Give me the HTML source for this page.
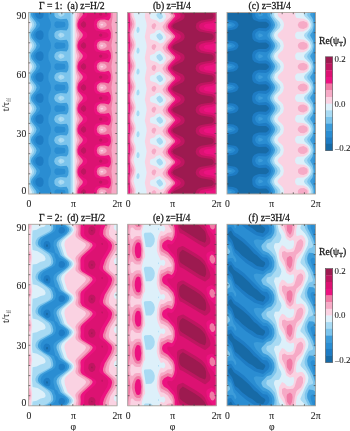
<!DOCTYPE html>
<html><head><meta charset="utf-8"><style>html,body{margin:0;padding:0;background:#fff;}svg{display:block;font-family:"Liberation Serif",serif;filter:blur(0.45px);}</style></head><body>
<svg width="350" height="431" viewBox="0 0 350 431" font-family="Liberation Serif, serif" fill="#1c1c1c">
<rect x="28.6" y="12.5" width="88.4" height="181.5" fill="#176AA6"/>
<path fill="#1E7CC4" d="M117.1 194 28.6 194 28.6 12.5 117.1 12.5 117.1 194Z"/>
<path fill="#2A8DD2" d="M117.1 194 28.6 194 28.6 12.5 35.5 12.5 35.2 14.5 36.1 16.8 37.6 18.2 40.1 19 42.1 18.3 43.1 17 43.6 15 43.5 12.5 117.1 12.5 117.1 194ZM41.8 39.5 42.8 38.5 43.5 36.5 43.6 34 43 32 42.1 30.9 40.6 30.3 37.6 31 36.1 32.4 35.4 34 35.7 37 37.6 39.2 40.1 40 41.8 39.5ZM41.8 60.5 42.8 59.5 43.5 57.5 43.6 55 43 53 42.1 51.9 40.6 51.3 37.6 52 36.1 53.4 35.4 55 35.7 58 37.6 60.2 40.1 61 41.8 60.5ZM41.8 81.5 42.8 80.5 43.5 78.5 43.6 76 43 74 42.1 72.9 40.6 72.3 37.6 73 36.1 74.4 35.4 76 35.7 79 37.6 81.2 40.1 82 41.8 81.5ZM41.8 102.5 42.8 101.5 43.5 99.5 43.6 97 43 95 42.1 93.9 40.6 93.3 37.6 94 36.1 95.4 35.4 97 35.7 100 37.6 102.2 40.1 103 41.8 102.5ZM41.8 123.5 42.8 122.5 43.5 120.5 43.6 118 43 116 42.1 114.9 40.6 114.3 37.6 115 36.1 116.4 35.4 118 35.7 121 37.6 123.2 40.1 124 41.8 123.5ZM41.8 144.5 42.8 143.5 43.5 141.5 43.6 139 43 137 42.1 135.9 40.6 135.3 37.6 136 36.1 137.4 35.4 139 35.7 142 37.6 144.2 40.1 145 41.8 144.5ZM41.8 165.5 42.8 164.5 43.5 162.5 43.6 160 43 158 42.1 156.9 40.6 156.3 37.6 157 36.1 158.4 35.4 160 35.7 163 37.6 165.2 40.1 166 41.8 165.5ZM41.8 186.5 42.8 185.5 43.5 183.5 43.6 181 43 179 42.1 177.9 40.6 177.3 37.6 178 36.1 179.4 35.4 181 35.7 184 37.6 186.2 40.1 187 41.8 186.5Z"/>
<path fill="#3C9CDA" d="M39.6 194 28.6 194 28.6 12.5 33.3 12.5 33 14.5 33.7 16.5 36.1 19.6 39.3 22.5 40.1 24.5 39.5 26.5 34.2 32 33 35 34 38 36.1 40.6 39.3 43.5 40.1 45.5 39.5 47.5 34.2 53 33 56 34 59 36.1 61.6 39.3 64.5 40.1 66.5 39.5 68.5 34.2 74 33 77 34 80 36.1 82.6 39.3 85.5 40.1 87.5 39.5 89.5 34.2 95 33 98 34 101 36.1 103.6 39.3 106.5 40.1 108.5 39.5 110.5 34.2 116 33 119 34 122 36.1 124.6 39.3 127.5 40.1 129.5 39.5 131.5 34.2 137 33 140 34 143 36.1 145.6 39.3 148.5 40.1 150.5 39.5 152.5 34.2 158 33 161 33.2 162.5 34.4 164.5 39.3 169.5 40.1 171 39.5 173.5 34.5 178.5 33.3 180.5 33 182 33.2 183.5 34.4 185.5 39.7 191 40.1 192.5 39.6 194ZM117.1 194 65.3 194 65.5 192 64.6 190.1 56.6 189.3 54.6 190.7 54.4 194 50.9 194 50.8 190.5 48.6 185.5 48.3 182 48.6 178.7 50.6 174.5 51 171 50.6 168.8 48.6 164.5 48.3 161 48.6 157.7 50.6 153.5 51 150 50.6 147.8 48.6 143.5 48.3 140 48.6 136.7 50.6 132.5 51 129 50.6 126.8 48.6 122.5 48.3 119 48.6 115.7 50.6 111.5 51 108.5 50.6 105.8 48.6 101.5 48.3 98 48.6 94.7 50.6 90.5 51 87.5 50.6 84.8 48.6 80.5 48.3 77 48.6 73.7 50.6 69.5 51 66.5 50.6 63.8 48.6 59.5 48.3 56 48.6 52.7 50.6 48.5 51 45.5 50.6 42.8 48.6 38.5 48.3 35 48.6 31.7 50.6 27.5 51 24.5 50.6 21.8 48.6 17.5 48.4 12.5 117.1 12.5 117.1 194ZM62 27.5 64.6 27.1 65.1 26.4 65.5 24 64.6 22.1 56.6 21.3 54.7 22.5 54.3 25.5 55.6 27.5 56.6 27.9 62 27.5ZM62 48.5 64.6 48.1 65.1 47.4 65.5 45 64.6 43.1 56.6 42.3 54.7 43.5 54.3 46.5 55.6 48.5 56.6 48.9 62 48.5ZM62 69.5 64.6 69.1 65.1 68.4 65.5 66 64.6 64.1 56.6 63.3 54.7 64.5 54.3 67.5 55.6 69.5 56.6 69.9 62 69.5ZM62 90.5 64.6 90.1 65.1 89.4 65.5 87 64.6 85.1 56.6 84.3 54.7 85.5 54.3 88.5 55.6 90.5 56.6 90.9 62 90.5ZM62 111.5 64.6 111.1 65.1 110.4 65.5 108 64.6 106.1 56.6 105.3 54.7 106.5 54.3 109.5 55.6 111.5 56.6 111.9 62 111.5ZM62 132.5 64.6 132.1 65.1 131.4 65.5 129 64.6 127.1 56.6 126.3 54.7 127.5 54.3 130.5 55.6 132.5 56.6 132.9 62 132.5ZM62 153.5 64.6 153.1 65.1 152.4 65.5 150 64.6 148.1 56.6 147.3 54.7 148.5 54.3 151.5 55.6 153.5 56.6 153.9 62 153.5ZM62 174.5 64.6 174.1 65.1 173.4 65.5 171 64.6 169.1 56.6 168.3 54.7 169.5 54.3 172.5 55.6 174.5 56.6 174.9 62 174.5Z"/>
<path fill="#7CC4EC" d="M36.1 194 28.6 194 28.6 12.5 31.1 12.5 30.9 14.5 31.5 16.5 35.7 22 36.6 24.5 35.5 27.5 31.6 32.5 30.9 35 31.6 37.8 35.7 43 36.6 45.5 35.5 48.5 31.6 53.5 30.9 56 31.6 58.8 35.7 64 36.6 66.5 35.5 69.5 31.6 74.5 30.9 77 31.6 79.8 35.7 85 36.6 87.5 35.5 90.5 31.6 95.5 30.9 98 31.6 100.8 35.7 106 36.6 108.5 35.5 111.5 31.6 116.5 30.9 119 31.6 121.8 35.7 127 36.6 129.5 35.5 132.5 31.6 137.5 30.9 140 31.6 142.8 35.7 148 36.6 150.5 35.5 153.5 31.6 158.5 30.9 161 31.6 163.8 35.4 168.5 36.6 171 35.8 174 31.6 179.4 30.9 182 31.6 184.8 36.2 191 36.6 193 36.1 194ZM117.1 194 68.6 194 68.2 189.5 66.6 186.7 60.6 187.2 59.1 186.9 55.6 185.5 54.4 183.5 54.4 180.5 55.3 179 56.6 178.1 60.6 177 66.6 177.5 68.2 175 68.6 171.5 68.1 168 66.6 165.7 60.6 166.2 57.7 165.5 55.2 164 54.1 161.5 54.9 158.5 56.9 157 60.6 156 66.6 156.5 68.2 154 68.6 150.5 68.1 147 66.6 144.7 60.6 145.2 57.7 144.5 55.2 143 54.1 140.5 54.9 137.5 56.9 136 60.6 135 66.6 135.5 68.2 133 68.6 129.5 68.1 126 66.6 123.7 60.6 124.2 57.7 123.5 55.2 122 54.1 119.5 54.9 116.5 56.9 115 60.6 114 66.6 114.5 68.2 112 68.6 108.5 68.1 105 66.6 102.7 60.6 103.2 57.7 102.5 55.2 101 54.1 98.5 54.9 95.5 56.9 94 60.6 93 66.6 93.5 68.2 91 68.6 87.5 68.1 84 66.6 81.7 60.6 82.2 58.1 81.6 55.6 80.5 54.2 78 54.7 75 56.6 73.1 60.6 72 66.6 72.5 68.2 70 68.6 66.5 68.1 63 66.6 60.7 60.6 61.2 58.1 60.6 55.6 59.5 54.2 57 54.7 54 56.6 52.1 60.6 51 66.6 51.5 68.2 49 68.6 45.5 68.1 42 66.6 39.7 60.6 40.2 59.1 39.9 55.6 38.5 54.4 36.5 54.4 33.5 55.3 32 56.6 31.1 60.6 30 66.6 30.5 68.2 28 68.6 24.5 68.1 21 66.6 18.7 60.6 19.2 56.4 18 55.2 17 54.4 15.5 54.4 12.5 117.1 12.5 117.1 194Z"/>
<path fill="#A8DAF3" d="M33.6 194 28.6 194 28.6 12.5 29.8 12.5 30.1 17.6 33.5 22 34.3 24.5 33.6 27 30.1 31.6 29.7 35 30.1 38.6 33.5 43 34.3 45.5 33.6 48 30.1 52.6 29.7 56 30.1 59.6 33.5 64 34.3 66.5 33.6 69 30.1 73.6 29.7 77 30.1 80.6 33.5 85 34.3 87.5 33.6 90 30.1 94.6 29.7 98 30.1 101.6 33.5 106 34.3 108.5 33.6 111 30.1 115.6 29.7 119 30.1 122.6 33.5 127 34.3 129.5 33.6 132 30.1 136.6 29.7 140 30.1 143.6 33.5 148 34.3 150.5 33.6 153 30.1 157.6 29.7 161 30.1 164.6 33.5 169 34.3 171 33.6 174 30.1 178.6 29.8 181.5 30.1 185.6 34.2 191.5 34.2 193.5 33.6 194ZM61.6 16.6 60.6 16.8 58.3 15 58.2 13.5 58.9 12.5 63.5 12.5 64.5 13.5 64.3 15 61.6 16.6ZM117.1 194 70.6 194 70.6 12.5 117.1 12.5 117.1 194ZM61.6 37.6 60.6 37.8 59.9 37.5 58.2 35.5 58.5 34 60.6 32.4 63.5 33.5 64.6 34.9 63.8 36.5 61.6 37.6ZM61.6 58.6 60.6 58.8 59.9 58.5 58.2 56.5 58.5 55 60.6 53.4 63.5 54.5 64.6 55.9 63.8 57.5 61.6 58.6ZM61.6 79.6 60.6 79.8 59.9 79.5 58.2 77.5 58.5 76 60.6 74.4 63.5 75.5 64.6 76.9 63.8 78.5 61.6 79.6ZM61.6 100.6 60.6 100.8 59.9 100.5 58.2 98.5 58.5 97 60.6 95.4 63.5 96.5 64.6 97.9 63.8 99.5 61.6 100.6ZM61.6 121.6 60.6 121.8 59.9 121.5 58.2 119.5 58.5 118 60.6 116.4 63.5 117.5 64.6 118.9 63.8 120.5 61.6 121.6ZM61.6 142.6 60.6 142.8 59.9 142.5 58.2 140.5 58.5 139 60.6 137.4 63.5 138.5 64.6 139.9 63.8 141.5 61.6 142.6ZM61.6 163.6 60.6 163.8 59.9 163.5 58.2 161.5 58.5 160 60.6 158.4 63.5 159.5 64.6 160.9 63.8 162.5 61.6 163.6ZM61.6 184.6 60.6 184.8 59.9 184.5 58.2 182.5 58.5 181 60.6 179.4 63.5 180.5 64.6 181.9 63.8 183.5 61.6 184.6Z"/>
<path fill="#DDF0FA" d="M31.6 194 28.6 194 28.6 12.5 29.2 12.5 29.7 19.5 31.7 23 32.1 24.5 31.6 26.5 29.7 30 29.2 35 29.7 40.5 31.7 44 32.1 45.5 31.6 47.5 29.7 51 29.2 56 29.7 61.5 31.7 65 32.1 66.5 31.6 68.5 29.7 72 29.2 77 29.7 82.5 31.7 86 32.1 87.5 31.6 89.5 29.7 93 29.2 98 29.7 103.5 31.7 107 32.1 108.5 31.6 110.5 29.7 114 29.2 119 29.7 124.5 31.7 128 32.1 129.5 31.6 131.5 29.7 135 29.2 140 29.7 145.5 31.7 149 32.1 150.5 31.6 152.5 29.7 156 29.2 160.5 29.6 166 31.7 170 32.1 171.5 31.6 173.5 29.7 177 29.2 181.5 29.6 187 32 192 31.6 194ZM117.1 194 72.7 194 72.7 12.5 117.1 12.5 117.1 194ZM60.6 14.6 60.2 14 60.6 13.6 61.1 14 60.6 14.6ZM60.6 35.6 60.2 35 60.6 34.6 61.1 35 60.6 35.6ZM60.6 56.6 60.2 56 60.6 55.6 61.1 56 60.6 56.6ZM60.6 77.6 60.2 77 60.6 76.6 61.1 77 60.6 77.6ZM60.6 98.6 60.2 98 60.6 97.6 61.1 98 60.6 98.6ZM60.6 119.6 60.2 119 60.6 118.6 61.1 119 60.6 119.6ZM60.6 140.6 60.2 140 60.6 139.6 61.1 140 60.6 140.6ZM60.6 161.6 60.2 161 60.6 160.6 61.1 161 60.6 161.6ZM60.6 182.6 60.2 182 60.6 181.6 61.1 182 60.6 182.6Z"/>
<path fill="#FAD2E2" d="M29.1 194 28.6 194 28.6 12.5 29.5 24.5 28.9 34.5 29.5 45.5 28.9 55.5 29.5 66.5 28.9 76.5 29.5 87.5 28.9 97.5 29.5 108.5 28.9 118.5 29.5 129.5 28.9 139 29.5 150.5 28.9 159.5 29.5 171.5 28.9 179.5 29 187.5 29.5 192.5 29.1 194ZM117.1 194 74.6 194 74.7 12.5 117.1 12.5 117.1 194Z"/>
<path fill="#F6AAC6" d="M117.1 194 75.6 194 75.9 187.5 77.3 182 75.9 177 75.5 171.5 76 166 77.3 161 75.9 156 75.5 150.5 76 145 77.3 140 75.9 135 75.5 129.5 76 124 77.3 119 75.9 114 75.5 108.5 76 103 77.3 98 76 93.5 75.5 88 75.9 82.5 77.3 77 76 72.5 75.5 67 75.9 61.5 77.3 56 76 51.5 75.5 46 75.9 40.5 77.3 35 76 30.5 75.5 25 76 19 77.3 14.5 76.9 12.5 117.1 12.5 117.1 194ZM102.6 25.5 103.3 24.5 102.6 23.7 100.6 24 100.6 25 101.1 25.5 102.6 25.5ZM102.6 46.5 103.3 45.5 102.6 44.7 100.6 45 100.6 46 101.1 46.5 102.6 46.5ZM102.6 67.5 103.3 66.5 102.6 65.7 100.6 66 100.6 67 101.1 67.5 102.6 67.5ZM102.6 88.5 103.3 87.5 102.6 86.7 100.6 87 100.6 88 101.1 88.5 102.6 88.5ZM102.6 109.5 103.3 108.5 102.6 107.7 100.6 108 100.6 109 101.1 109.5 102.6 109.5ZM102.6 130.5 103.3 129.5 102.6 128.7 100.6 129 100.6 130 101.1 130.5 102.6 130.5ZM102.6 151.5 103.3 150.5 102.6 149.7 100.6 150 100.6 151 101.1 151.5 102.6 151.5ZM102.6 172.5 103.3 171.5 102.6 170.7 100.6 171 100.6 172 101.1 172.5 102.6 172.5ZM102.6 193.5 103.3 192.5 102.6 191.7 100.6 192 100.6 193 101.1 193.5 102.6 193.5Z"/>
<path fill="#F07AA5" d="M111.1 194 106.3 194 106.6 192 105.7 190.5 104.6 189.8 101.1 189.3 100.1 189.7 99 191 98.7 192.5 99 194 76.5 194 76.9 188.5 79.4 183.5 79.7 182 77 176 76.4 171.5 76.9 167.5 79.4 162.5 79.7 161 77 155 76.4 150.5 76.9 146.5 79.4 141.5 79.7 140 77 134 76.4 129.5 76.9 125.5 79.4 120.5 79.7 119 77 113 76.4 108.5 76.9 104.5 79.4 99.5 79.7 98 77 92 76.4 87.5 76.9 83.5 79.4 78.5 79.7 77 77 71 76.4 66.5 77.1 62 79.6 56.5 79.3 54.5 76.9 49.5 76.4 45.5 77.1 41 79.6 35.5 79.3 33.5 77 29 76.4 25 76.9 20.5 79.5 15 79.3 12.5 112.7 12.5 112.5 17.5 111.4 24.5 112.5 31.5 112.7 36.5 111.4 45.5 112.5 52.5 112.7 57 111.4 66.5 112.7 77.5 111.4 87.5 112.7 98.5 111.4 108.5 112.7 119.5 111.4 129.5 112.7 140.5 111.4 150.5 112.7 161.5 111.4 171.5 112.7 182.5 111.4 191.5 111.5 194 111.1 194ZM104 27.5 106.3 26 106.7 25 106.4 23.5 104.6 21.8 100.6 21.3 98.8 23.5 98.7 25 99.2 26.5 100.6 27.9 104 27.5ZM104 48.5 106.3 47 106.7 46 106.4 44.5 104.6 42.8 100.6 42.3 98.8 44.5 98.7 46 99.2 47.5 100.6 48.9 104 48.5ZM104 69.5 106.3 68 106.7 67 106.4 65.5 104.6 63.8 100.6 63.3 98.8 65.5 98.7 67 99.2 68.5 100.6 69.9 104 69.5ZM104 90.5 106.3 89 106.7 88 106.4 86.5 104.6 84.8 100.6 84.3 98.8 86.5 98.7 88 99.2 89.5 100.6 90.9 104 90.5ZM104 111.5 106.3 110 106.7 109 106.4 107.5 104.6 105.8 100.6 105.3 98.8 107.5 98.7 109 99.2 110.5 100.6 111.9 104 111.5ZM104 132.5 106.3 131 106.7 130 106.4 128.5 104.6 126.8 100.6 126.3 98.8 128.5 98.7 130 99.2 131.5 100.6 132.9 104 132.5ZM104 153.5 106.3 152 106.7 151 106.4 149.5 104.6 147.8 100.6 147.3 98.8 149.5 98.7 151 99.2 152.5 100.6 153.9 104 153.5ZM104 174.5 106.3 173 106.7 172 106.4 170.5 104.6 168.8 100.6 168.3 98.8 170.5 98.7 172 99.2 173.5 100.6 174.9 104 174.5Z"/>
<path fill="#EC1280" d="M96.6 194 77.5 194 77.5 191 78.1 189 79.1 187.2 82.2 184 82.9 182 82.4 180.5 79.1 177 78 175 77.4 172.5 77.6 169.5 78.9 166.5 82.2 163 82.9 161 82.4 159.5 78.2 154.5 77.5 152.5 77.4 149.5 78.6 146 82.2 142 82.9 140 82.4 138.5 78.2 133.5 77.5 131.5 77.4 128.5 78.6 125 82.2 121 82.9 119 82.4 117.5 78.2 112.5 77.5 110.5 77.4 108 78.6 104 82.2 100 82.9 98 82.4 96.5 78.2 91.5 77.5 89.5 77.4 87 78.6 83 82.2 79 82.9 77 82.4 75.5 78.2 70.5 77.5 68.5 77.4 66 78.6 62 82.2 58 82.9 56 82.4 54.5 78.2 49.5 77.5 47.5 77.4 45 78.6 41 82.2 37 82.9 35 82.4 33.5 78.2 28.5 77.5 26.5 77.4 23.5 78.9 19.5 82.7 15 82.9 14 82.4 12.5 110.9 12.5 110.6 17.5 108.6 20.4 104.6 19.5 100.1 19.8 97.6 21.5 96.7 24.5 97.4 27.5 99.1 29 100.6 29.6 104.6 29.7 108.6 28.8 110.1 30.7 110.9 33 110.7 38 109.1 41 108.6 41.4 104.6 40.5 100.1 40.8 97.6 42.5 96.7 45.5 97.4 48.5 99.1 50 100.6 50.6 104.6 50.7 108.6 49.8 110.6 52.7 111 55.5 110.8 58.5 109.1 62 108.6 62.4 104.6 61.5 100.1 61.8 97.6 63.5 96.7 66.5 97.4 69.5 100.1 71.4 104.6 71.7 108.6 70.8 109.1 71.2 110.3 73 110.9 75 110.6 80.5 108.6 83.4 104.6 82.5 100.6 82.6 99.1 83.2 97.2 85 96.7 87.5 97.4 90.5 100.1 92.4 104.6 92.7 108.6 91.8 109.1 92.2 110.8 95.5 110.8 100.5 110.1 102.5 108.6 104.4 104.6 103.5 100.6 103.6 99.1 104.2 97.2 106 96.7 108.5 97.4 111.5 100.1 113.4 104.6 113.7 108.9 113 110.7 116 110.9 121 110.1 123.5 108.6 125.4 104.6 124.5 100.1 124.8 97.6 126.5 96.7 129.5 97.4 132.5 100.1 134.4 104.6 134.7 108.9 134 110.6 136.7 111 141.5 110.4 144 108.6 146.4 104.6 145.5 100.1 145.8 97.6 147.5 96.7 150.5 97.4 153.5 100.1 155.4 104.6 155.7 108.9 155 110.6 157.7 111 162.5 110.4 165 108.6 167.4 104.6 166.5 100.1 166.8 97.6 168.5 96.7 171.5 97.4 174.5 100.1 176.4 104.6 176.7 108.6 175.8 110.6 178.7 111 183 110.4 186 108.6 188.4 104.6 187.5 100.6 187.6 98.6 188.5 97 190.5 96.6 194Z"/>
<path fill="#DC1272" d="M93.6 194 78.8 194 78.6 193 78.8 191 79.6 189.3 80.9 188 86.1 185.1 87.1 183.5 87.3 182 87 180.5 85.9 179 83.6 177.9 80.1 175.5 79.1 174.1 78.6 172 78.8 170 79.6 168.3 80.9 167 86.1 164.1 87.1 162.5 87.3 161 87 159.5 85.9 158 83.6 156.9 80.1 154.5 79.1 153.1 78.6 151 78.8 149 79.6 147.3 80.9 146 86.1 143.1 87.1 141.5 87.3 140 87 138.5 85.9 137 83.6 135.9 80.1 133.5 79.1 132.1 78.6 130 78.8 128 79.6 126.3 80.9 125 86.1 122.1 87.1 120.5 87.3 119 87 117.5 85.9 116 83.6 114.9 80.1 112.5 79.1 111.1 78.6 109 78.8 107 79.6 105.3 80.9 104 86.1 101.1 87.1 99.5 87.3 98 86.1 95.1 80.6 92 79.1 90.1 78.7 88.5 78.7 86.5 79.5 84.5 80.6 83.2 86.1 80.1 87.1 78.5 87.3 77 86.1 74.1 80.6 71 78.9 68.5 78.6 66 79.5 63.5 80.6 62.2 86.1 59.1 87.1 57.5 87.3 56 87 54.5 85.9 53 80.6 50 79.6 48.9 78.8 47 78.7 44.5 79.1 43.1 80.6 41.2 86.2 38 87.1 36.5 87.3 35 87 33.5 85.9 32 83.6 30.9 79.7 28 78.9 26.5 78.6 24 79.1 22.1 80.6 20.2 85.5 17.5 86.5 16.5 87.3 14.5 87 12.5 108 12.5 108.6 13.5 108.6 14.7 107.1 16.4 102.6 17.7 97.1 18.4 95.6 19.2 94.3 21.5 93.9 25 94.6 28.5 96.1 30.4 106.6 32.6 108.4 34 108.5 36 107.7 37 106.1 37.8 96.1 39.8 94.5 42 93.9 46 94.6 49.5 96.1 51.4 106.6 53.6 108.4 55 108.6 56.7 107.7 58 106.1 58.8 96.1 60.8 94.5 63 93.9 66.5 94.4 70 96.1 72.4 106.6 74.6 108.4 76 108.6 77.7 107.7 79 106.1 79.8 96.1 81.8 94.5 84 93.9 87.5 94.4 91 96.1 93.4 106.6 95.6 108.4 97 108.6 98.7 107.7 100 106.1 100.8 96.1 102.8 94.5 105 93.9 108.5 94.4 112 96.1 114.4 106.6 116.6 108.4 118 108.6 119.5 107.7 121 106.1 121.8 96.1 123.8 94.5 126 93.9 129.5 94.4 133 96.1 135.4 106.6 137.6 108.4 139 108.6 140.5 107.7 142 106.1 142.8 96.1 144.8 94.5 147 93.9 150.5 94.4 154 96.1 156.4 106.6 158.6 108.4 160 108.6 161.5 107.7 163 106.1 163.8 96.1 165.8 94.5 168 93.9 171.5 94.4 175 96.1 177.4 106.6 179.6 108.4 181 108.6 182.5 107.7 184 106.1 184.8 97.1 186.4 95.9 187 94.5 189 94 194 93.6 194Z"/>
<path fill="#BE1660" d="M101.1 15.7 99.9 15.5 99 14.5 99.1 13.5 100.3 12.5 101.6 12.9 102.4 14 102 15 101.1 15.7ZM83.6 28.1 81.2 26 80.7 24.5 81.4 23 83.6 21.1 85.6 22.5 86.2 24.5 85.6 26.7 83.6 28.1ZM101.1 36.7 99.9 36.5 99 35.5 99.1 34.5 100.6 33.4 101.8 34 102.4 35 102 36 101.1 36.7ZM83.6 49.1 81.2 47 80.7 45.5 81.4 44 83.6 42.1 85.6 43.5 86.2 45.5 85.6 47.7 83.6 49.1ZM101.1 57.7 99.9 57.5 99 56.5 99.1 55.5 100.6 54.4 101.8 55 102.4 56 102 57 101.1 57.7ZM83.6 70.1 81.2 68 80.7 66.5 81.4 65 83.6 63.1 85.6 64.5 86.2 66.5 85.6 68.7 83.6 70.1ZM101.1 78.7 99.9 78.5 99 77.5 99.1 76.5 100.6 75.4 101.8 76 102.4 77 102 78 101.1 78.7ZM83.6 91.1 81.2 89 80.7 87.5 81.4 86 83.6 84.1 85.6 85.5 86.2 87.5 85.6 89.7 83.6 91.1ZM101.1 99.7 99.9 99.5 99 98.5 99.1 97.5 100.6 96.4 101.8 97 102.4 98 102 99 101.1 99.7ZM83.6 112.1 81.2 110 80.7 108.5 81.4 107 83.6 105.1 85.6 106.5 86.2 108.5 85.6 110.7 83.6 112.1ZM101.1 120.7 99.9 120.5 99 119.5 99.1 118.5 100.6 117.4 101.8 118 102.4 119 102 120 101.1 120.7ZM83.6 133.1 81.2 131 80.7 129.5 81.4 128 83.6 126.1 85.6 127.5 86.2 129.5 85.6 131.7 83.6 133.1ZM101.1 141.7 99.9 141.5 99 140.5 99.1 139.5 100.6 138.4 101.8 139 102.4 140 102 141 101.1 141.7ZM83.6 154.1 81.2 152 80.7 150.5 81.4 149 83.6 147.1 85.6 148.5 86.2 150.5 85.6 152.7 83.6 154.1ZM101.1 162.7 99.9 162.5 99 161.5 99.1 160.5 100.6 159.4 101.8 160 102.4 161 102 162 101.1 162.7ZM83.6 175.1 81.2 173 80.7 171.5 81.4 170 83.6 168.1 85.6 169.5 86.2 171.5 85.6 173.7 83.6 175.1ZM101.1 183.7 99.9 183.5 99 182.5 99.1 181.5 100.6 180.4 101.8 181 102.4 182 102 183 101.1 183.7ZM85.6 194 81.2 194 80.9 193.5 81 191.5 83.6 189.1 85.1 189.9 85.9 191 86.2 193 86 194 85.6 194Z"/>
<rect x="28.6" y="12.5" width="88.4" height="181.5" fill="none" stroke="#b0a69c" stroke-width=".9"/>
<path d="M28.6 22.6h1.7M117 22.6h-1.7M28.6 32.7h1.7M117 32.7h-1.7M28.6 42.8h1.7M117 42.8h-1.7M28.6 52.8h1.7M117 52.8h-1.7M28.6 62.9h1.7M117 62.9h-1.7M28.6 73h1.7M117 73h-1.7M28.6 83.1h1.7M117 83.1h-1.7M28.6 93.2h1.7M117 93.2h-1.7M28.6 103.2h1.7M117 103.2h-1.7M28.6 113.3h1.7M117 113.3h-1.7M28.6 123.4h1.7M117 123.4h-1.7M28.6 133.5h1.7M117 133.5h-1.7M28.6 143.6h1.7M117 143.6h-1.7M28.6 153.7h1.7M117 153.7h-1.7M28.6 163.8h1.7M117 163.8h-1.7M28.6 173.8h1.7M117 173.8h-1.7M28.6 183.9h1.7M117 183.9h-1.7M39.7 12.5v1.7M39.7 194v-1.7M50.7 12.5v1.7M50.7 194v-1.7M61.8 12.5v1.7M61.8 194v-1.7M72.8 12.5v1.7M72.8 194v-1.7M83.8 12.5v1.7M83.8 194v-1.7M94.9 12.5v1.7M94.9 194v-1.7M106 12.5v1.7M106 194v-1.7" stroke="#4a4a4a" stroke-width=".75" fill="none"/>
<rect x="127.8" y="12.5" width="88.4" height="181.5" fill="#176AA6"/>
<path fill="#1E7CC4" d="M216.3 194 127.8 194 127.8 12.5 216.3 12.5 216.3 194Z"/>
<path fill="#2A8DD2" d="M216.3 194 127.8 194 127.8 12.5 216.3 12.5 216.3 194Z"/>
<path fill="#3C9CDA" d="M216.3 194 127.8 194 127.8 12.5 216.3 12.5 216.3 194Z"/>
<path fill="#7CC4EC" d="M216.3 194 127.8 194 127.8 12.5 216.3 12.5 216.3 194Z"/>
<path fill="#A8DAF3" d="M216.3 194 127.8 194 127.8 12.5 216.3 12.5 216.3 194Z"/>
<path fill="#DDF0FA" d="M216.3 194 127.8 194 127.8 12.5 158.6 12.5 156.6 14 156.4 15.5 157.6 17.5 159.8 19.6 161.9 18.5 163 17 162.5 15 160.4 12.5 216.3 12.5 216.3 194ZM138.6 32.5 139.3 31.4 139.6 29.5 139.3 28 138.3 26.7 137.8 26.7 136.9 28 136.4 30.5 137 32.5 137.8 32.9 138.6 32.5ZM161 40 162.8 38.5 163 37 161.9 35 159.8 32.9 156.9 34.5 156.3 36 157.3 38 159.2 40 159.8 40.5 161 40ZM138.5 53.5 139.3 52.3 139.6 50.5 139.3 48.9 138.3 47.6 137.8 47.6 136.9 49 136.4 51.5 137.1 53.5 138.5 53.5ZM160.7 61 162.7 59.5 163 58 162 56 159.8 53.8 157.3 55 156.5 56 156.4 57 157 58.5 158.8 60.5 159.8 61.4 160.7 61ZM138.3 74.5 139.3 73.2 139.6 71.5 139.3 69.8 138.3 68.4 137.8 68.5 136.8 70 136.4 72.5 136.8 74 137.3 74.5 138.3 74.5ZM160.5 82 162.6 80.5 163.1 79 162.1 77 159.8 74.7 157.2 76 156.5 77 156.4 78 158.4 81 159.8 82.3 160.5 82ZM138 95.5 139.1 94.5 139.6 92.5 139.2 90.5 138.3 89.3 137 90.5 136.4 93 136.8 94.9 138 95.5ZM160.3 103 162.6 101.5 163.1 100 162.2 98 159.8 95.6 157.1 97 156.3 98.5 157.5 101 159.8 103.2 160.3 103ZM138.7 116 139.4 114.5 139.5 112.5 138.8 110.7 137.8 110.3 136.7 112 136.4 114.5 137.3 116.3 138.7 116ZM160 124 162.5 122.5 163.1 121 162.3 119 159.8 116.5 156.9 118 156.3 119.5 157.2 121.5 160 124ZM138.5 137 139.3 135.8 139.6 134 139.3 132.5 138.3 131.1 137.8 131.2 136.9 132.5 136.4 135 137.1 137 137.8 137.3 138.5 137ZM160.9 144.5 162.8 143 163 141.5 162 139.5 159.8 137.3 156.8 139 156.4 140.5 157.3 142.5 159.3 144.5 159.8 144.9 160.9 144.5ZM138.4 158 139.3 156.7 139.6 155 139.3 153.4 138.3 152 137.8 152.1 136.8 153.5 136.4 156 137.2 158 138.4 158ZM160.6 165.5 162.7 164 163 162.5 162 160.5 159.8 158.2 157.3 159.5 156.5 160.5 156.4 161.5 157 163 158.8 165 159.8 165.8 160.6 165.5ZM138.2 179 139.1 178 139.6 176 139.2 174 138.3 172.9 137 174 136.4 176.5 136.8 178.5 138.2 179ZM160.4 186.5 162.6 185 163.1 183.5 162.1 181.5 159.8 179.1 157.1 180.5 156.4 181.5 156.4 182.5 158.4 185.5 159.8 186.7 160.4 186.5Z"/>
<path fill="#FAD2E2" d="M135.3 194 127.8 194 127.8 12.5 133.6 12.5 133.7 15.5 135.4 20 135.9 23 135.6 27 133.5 34.5 133.9 37 135.6 41.5 135.9 44.5 135.4 48.5 133.5 55.5 133.9 58 135.5 62 135.9 65.5 135.5 69 133.5 76.5 134 79 135.5 83 135.9 86 135.5 90 133.5 97.5 135.5 104 135.9 107 135.5 111 133.5 118 133.9 120.5 135.5 125 135.9 128 135.4 132 133.5 139 133.9 141.5 135.5 145.5 135.9 148.5 135.5 152.5 133.5 160 135.8 169 135.6 173 133.5 181 135.7 188.5 135.8 192 135.3 194ZM216.3 194 146.7 194 146.4 190.5 144.8 183 146.7 172.5 144.8 162 146.7 151.5 144.8 141.5 146.7 131 146.4 127.5 144.8 120.5 146.7 110 146.4 107 144.8 99.5 146.7 89 144.8 78.5 146.7 68 144.8 58 146.7 47.5 146.4 44 144.8 37 146.7 26.5 146.4 23 144.8 17 145.3 12.5 152.2 12.5 150.1 14 149.9 16 150.3 18 151.8 19 156.3 20.2 159.8 22.8 163.3 21.6 165.7 18 166.2 16 164 12.5 216.3 12.5 216.3 194ZM160.3 43.5 163.3 42.5 165.4 39.5 166.2 37 164.1 33.5 159.8 29.7 156.3 30.6 154.3 32.9 150.8 34 150.1 35 149.9 37 150.3 38.9 151 39.5 156.3 41 159.8 43.6 160.3 43.5ZM159.9 64.5 163.3 63.4 165.3 60.5 166.2 58 164.2 54.5 159.8 50.6 156.3 51.5 154.3 53.8 150.8 54.9 150.2 55.5 149.9 57.5 150.2 59.5 150.8 60.3 156.3 61.9 159.9 64.5ZM161.1 85 163.3 84.3 165.3 81.5 166.2 79 164.3 75.5 160.3 71.9 159.8 71.5 156.3 72.4 154.3 74.7 151.8 75.3 150.3 76.3 149.9 79 150.6 81 156.3 82.8 159.8 85.4 161.1 85ZM160.8 106 163.3 105.2 165.2 102.5 166.2 100 165.2 97.5 162.8 94.9 159.8 92.4 156.3 93.3 154.3 95.6 151.8 96.2 150.3 97.2 149.9 100 150.7 102 156.3 103.7 159.8 106.3 160.8 106ZM160.5 127 163.3 126 165.4 123 166.2 120.5 164.1 117 159.8 113.3 156.3 114.2 154.3 116.5 150.8 117.6 150.1 118.5 149.9 120.5 150.3 122.5 150.9 123 156.3 124.6 159.8 127.2 160.5 127ZM160.1 148 163.3 146.9 165.4 144 166.2 141.5 164.2 138 159.8 134.2 156.3 135.1 154.3 137.4 150.8 138.5 150.1 139.5 149.9 141.5 150.3 143.3 151.1 144 156.3 145.5 160.1 148ZM161.3 168.5 163.6 167.5 165.3 165 166.2 162.5 164.3 159 160.3 155.5 159.8 155.1 156.3 156 154.3 158.3 151.8 158.9 150.3 159.8 149.9 162.5 150.5 164.5 156.3 166.4 159.8 169 161.3 168.5ZM160.9 189.5 163.3 188.7 165.2 186 166.2 183.5 164.4 180 160.3 176.4 159.8 176 156.3 176.9 154.3 179.2 151.8 179.8 150.3 180.7 149.9 183.5 150.7 185.5 156.3 187.3 159.8 189.9 160.9 189.5Z"/>
<path fill="#F6AAC6" d="M133.8 194 127.8 194 127.8 12.5 131.4 12.5 131.6 16 133.8 20.7 134.5 24 134.1 27 131.8 32 131.3 34.5 131.7 37 133.8 41.6 134.5 45 134 48 131.8 53 131.3 55.5 131.8 58.3 134 63 134.5 66 134 69 131.7 74 131.3 76.5 131.7 79 133.8 83.5 134.5 86.5 134.1 89.5 131.7 95 131.3 97.5 131.8 100 134 105 134.5 107.5 133.9 111 131.8 115.5 131.3 118 131.6 120.5 133.8 125.2 134.5 128.5 134 131.5 131.8 136.5 131.3 139 131.7 141.5 133.8 146 134.4 149 134 152.5 131.8 157.5 131.3 160 131.7 162.5 133.8 167 134.5 170 134 173.5 131.7 178.5 131.3 181 131.8 183.5 134.3 189.5 134.4 192.5 133.8 194ZM216.3 194 162.5 194 167.2 187 170.2 184.5 171.1 183 169.8 181 164.6 177 162.9 174.5 162.5 173 167.2 166 170.3 163.5 171.1 162 169.8 160.1 165 156.5 162.5 152.5 162.7 151.5 164.6 148.5 167.8 144.5 170.4 142.5 171.1 141 169.8 139.2 164.9 135.5 162.5 131.5 162.7 130.5 167 124.5 170 122 171.1 120.5 170 118.5 165.8 115.6 164.3 114 162.5 110.5 164.1 107.5 167.1 103.5 170.1 101 171.1 99.5 169.9 97.5 164.7 93.5 163 91 162.5 89.5 167.2 82.5 170.2 80 171.1 78.5 169.8 76.5 164.8 72.7 162.5 69 162.6 68 164.6 65 167.8 60.9 170.3 59 171.1 57.5 169.8 55.7 164.9 52 162.5 48 162.7 47 167 41 171.1 37 170.9 36 170 35 165.8 32 164.4 30.5 162.5 27 162.8 26 167.1 20 170.1 17.5 171.1 16 170.4 14.5 167.8 12.5 216.3 12.5 216.3 194ZM154.3 29.4 152.3 28.4 151.5 26.5 152 24.5 154.3 23 155.8 24 156.3 25.5 154.3 29.4ZM154.3 50.3 152.1 49 151.5 47 152.3 45 154.3 43.9 155.9 45 156.3 46.5 154.3 50.3ZM154.3 71.2 152.2 70 151.5 68 152.2 66 154.3 64.8 155.8 65.8 156.3 67 155.8 69 154.3 71.2ZM154.3 92.1 152.3 91 151.5 89 152.1 87 154.3 85.7 155.8 86.7 156.3 88 156 89.5 154.3 92.1ZM154.3 113 152.3 111.9 151.5 110 152.1 108 154.3 106.6 155.7 107.5 156.3 109 154.3 113ZM154.3 133.9 152 132.5 151.5 130.5 152.3 128.6 154.3 127.5 155.8 128.5 156.3 130 154.3 133.9ZM154.3 154.8 152.1 153.5 151.5 151.5 152.3 149.5 154.3 148.3 155.9 149.5 156.3 150.5 155.8 152.5 154.3 154.8ZM154.3 175.7 152.2 174.5 151.5 172.5 152.2 170.5 154.3 169.2 155.8 170.3 156.3 171.5 155.7 173.5 154.3 175.7ZM155.8 194 151.5 194 151.8 192 152.6 191 154.3 190.1 156.3 192 155.8 194Z"/>
<path fill="#F07AA5" d="M131.8 194 127.8 194 127.8 12.5 130.3 12.5 130.6 17.5 132.4 24 130.7 30.5 130.2 34.5 130.7 39 132.4 45 130.6 51.5 130.2 55.5 130.7 60 132.4 66 130.7 72 130.2 76.5 130.7 81 132.4 87 130.7 93 130.2 97.5 130.6 101.5 132.4 108 130.7 114 130.2 118 130.7 122.5 132.4 128.5 130.7 135 130.2 139 130.7 143.5 132.4 149.5 130.6 156 130.2 160 130.7 164.5 132.4 170.5 130.7 176.5 130.2 180.5 130.6 185 132.4 191 131.8 194ZM216.3 194 165.7 194 166.9 190.5 172.5 184.5 173.3 183 172.6 181.5 166.6 175.5 165.7 173 167 169.5 172.6 163.5 173.3 162 172.5 160.5 166.5 154.5 165.7 152.5 166.7 149 172.7 142.5 173.3 141 172.4 139.5 166.4 133.5 165.7 131.5 166.8 127.9 173.2 120.5 172.7 119 166.3 112.5 165.7 110.5 166.8 107 172.4 101 173.3 99.5 172.7 98 166.3 91.6 165.7 89.5 166.9 86 172.5 80 173.3 78.5 172.6 77 166.5 71 165.7 69 166.6 65.5 172.6 59 173.3 57.5 172.5 56 166.4 50 165.7 48 166.8 44.4 173.2 37 172.8 35.5 166.8 29.5 165.8 27.5 165.9 25.5 166.8 23.5 173.1 16.5 173 15 170.6 12.5 216.3 12.5 216.3 194Z"/>
<path fill="#EC1280" d="M129.8 194 127.8 194 127.8 12.5 129.5 12.5 130.2 24 129.5 33 130.2 45 129.5 54 130.2 66 129.5 75 130.2 87 129.5 95.5 130.2 108 129.5 116.5 130.2 128.5 129.5 137 130.2 149.5 129.5 157.5 130.2 170.5 129.5 178 130.2 191 129.8 194ZM216.3 194 167.7 194 168.3 191.5 171.8 187 174.5 184.5 175.2 183 174.6 181.5 171.8 178.8 168.4 174.5 167.7 172.5 168.3 170.5 171.8 166.1 174.6 163.5 175.2 162 174.5 160.5 171.8 157.9 168.3 153.5 167.7 151.5 168.4 149.5 171.8 145.3 174.7 142.5 175.2 141 174.4 139.5 171.8 137 168.6 133 167.7 131 168.5 128.5 175.2 120.5 174.7 119 168.5 112 167.7 110 168.3 107.9 171.8 103.5 174.4 101 175.2 99.5 174.7 98 171.8 95.3 168.4 91 167.7 89 168.3 87 171.8 82.6 174.5 80 175.2 78.5 174.6 77 171.8 74.4 168.3 70 167.7 68 168.4 66 171.8 61.7 174.6 59 175.2 57.5 174.5 56 171.8 53.5 168.6 49.5 167.7 47.5 168.5 45 175.2 37 174.8 35.5 168.5 28.5 167.7 26.5 168.5 24 175.1 16.5 175 15 172.6 12.5 216.3 12.5 216.3 194Z"/>
<path fill="#DC1272" d="M127.8 21.3 127.8 12.5 128.9 12.5 128.8 18.8 127.8 21.3ZM203.8 194 169.5 194 169.4 193.5 170.5 191 173.8 187.1 176.9 184.5 177.7 183 177 181.5 173.8 178.8 170.6 175 169.4 172.5 170.6 170 173.8 166.2 177 163.5 177.7 162 176.9 160.5 173.8 157.9 170.5 154 169.4 151.5 170.6 149 173.8 145.3 177.1 142.5 177.6 141 176.8 139.5 173.8 137 170.8 133.5 169.4 131 169.5 130 170.7 128 173.8 124.4 177.2 121.5 177.6 120.5 177.2 119 173.2 115.5 170.3 112 169.4 110 170.4 107.5 173.8 103.5 176.8 101 177.6 99.5 177.1 98 173.8 95.2 170.6 91.5 169.4 89 170.5 86.5 173.8 82.6 177 80 177.7 78.5 177 77 173.8 74.3 170.5 70.5 169.4 68 170.8 65.3 177.6 58 177.3 56.5 173.4 53 170.5 49.5 169.4 47.5 169.5 46.5 170.7 44.5 173.8 40.8 177.1 38 177.6 37 177.2 35.5 173.3 32 170.4 28.5 169.4 26.5 169.5 25.5 170.8 23.5 177.5 16.5 177.1 14.5 174.8 12.5 216.3 12.5 216.3 21.3 211.8 23.3 205.8 24.1 203.9 25.5 203.7 26.5 205.8 28.4 211.8 29.2 215.3 30.6 216.3 29.5 216.3 42.2 211.8 44.2 205.8 45 204.3 46 203.7 47 204 48 205.8 49.3 211.8 50.1 215.3 51.5 216.3 50.4 216.3 63.1 211.8 65.1 205.8 65.9 204.2 67 203.7 68 204.1 69 205.8 70.2 211.8 71 215.3 72.4 216.3 71.3 216.3 84 211.8 86 205.8 86.8 204.1 88 203.7 89 204.2 90 205.8 91.1 211.8 91.9 215.3 93.3 216.3 92.1 216.3 104.9 211.8 106.9 205.8 107.7 204 109 203.7 110 204.3 111 205.8 111.9 211.8 112.8 215.3 114.1 216.3 113 216.3 125.7 211.8 127.7 205.8 128.6 204.3 129.5 203.7 130.5 204 131.5 205.8 132.8 211.8 133.7 215.3 135 216.3 133.9 216.3 146.6 211.8 148.6 205.8 149.5 204.2 150.5 203.7 151.5 204.1 152.5 205.8 153.7 211.8 154.6 215.3 155.9 216.3 154.8 216.3 167.5 211.8 169.5 205.8 170.4 204.1 171.5 203.7 172.5 204.2 173.5 205.8 174.6 211.8 175.4 215.3 176.8 216.3 175.7 216.3 188.4 211.8 190.4 205.8 191.3 204 192.5 203.8 194ZM127.8 42.2 127.8 29.5 128.7 32 128.9 36 128.8 39.6 127.8 42.2ZM127.8 63.1 127.8 50.4 128.8 53 128.9 57 128.8 60.5 127.8 63.1ZM127.8 84 127.8 71.3 128.8 74 128.9 78 128.8 81.5 127.8 84ZM127.8 104.9 127.8 92.1 128.8 95 128.9 99 128.8 102.5 127.8 104.9ZM127.8 125.7 127.8 113 128.8 115.9 128.9 120 128.7 123.5 127.8 125.7ZM127.8 146.6 127.8 133.9 128.8 136.5 128.9 140.5 128.8 144.1 127.8 146.6ZM127.8 167.5 127.8 154.8 128.8 157.5 128.9 161.5 128.8 165 127.8 167.5ZM127.8 188.4 127.8 175.7 128.8 178.5 128.9 182.5 128.8 186 127.8 188.4Z"/>
<path fill="#BE1660" d="M198.8 194 170.9 194 170.9 193.5 171.8 191.3 175.8 187.5 179.8 185.2 180.9 183 179.8 180.6 175.8 178.3 173.8 176.5 171.7 174.5 170.9 172.5 171.7 170.5 173.8 168.5 175.8 166.6 179.8 164.3 180.9 162 179.8 159.8 175.8 157.4 171.8 153.7 170.9 151.5 171.8 149.5 175.8 145.8 179.7 143.5 180.8 141.5 179.9 139 175.8 136.5 173.8 134.7 171.5 132.5 170.9 130.5 171.8 128.6 175.8 124.9 179.8 122.5 180.8 120.5 179.8 118 175.8 115.7 171.8 111.9 170.9 110 171.8 107.7 175.8 104 179.8 101.7 180.9 99.5 179.8 97.1 175.8 94.8 173.8 93 171.8 91 170.9 89 171.8 86.8 175.8 83.1 179.8 80.8 180.9 78.5 179.8 76.2 175.8 73.9 173.8 72.1 171.7 70 170.9 68 171.8 65.9 175.8 62.2 179.7 60 180.8 58 180 55.5 175.8 53 171.8 49.3 170.9 47.5 171.8 45 175.8 41.3 179.8 39 180.7 37.5 180.8 36 179.9 34.5 175.8 32.1 171.8 28.4 170.9 26.5 171.9 24 175.8 20.4 179.3 18.5 180.6 17 180.5 14.5 178.3 12.5 215.2 12.5 216 14.5 215.7 18 215.3 19 214.3 19.8 211.8 21 205.8 21.7 201.3 23 199.5 24.5 199 26 199.5 28 200.8 29.3 205.8 30.8 211.8 31.5 214.3 32.7 215.7 34 215.9 38 214.8 40.3 211.8 41.9 205.8 42.6 201 44 199.4 45.5 199 47 199.6 49 201.3 50.4 205.8 51.7 211.8 52.4 214.9 54 216 56 215.6 60 214.8 61.2 211.8 62.8 205.8 63.5 200.8 65 199.4 66.5 199 68 199.3 69.5 200.8 71.1 205.8 72.5 212.3 73.4 215.3 75.2 216 77 215.8 80.3 214.8 82.1 211.8 83.7 205.8 84.4 201.3 85.7 199.6 87 199 89 199.4 90.5 200.8 92 205.8 93.4 211.8 94.1 215.1 96 215.9 97.5 215.8 101 214.8 103 211.8 104.6 205.8 105.3 201.3 106.5 199.6 108 199 110 199.5 111.5 200.8 112.9 205.8 114.3 211.8 115 214.6 116.5 215.8 118 215.8 122 214.7 124 211.8 125.5 205.8 126.2 201.1 127.5 199.5 129 199 130.5 199.3 132.1 200.8 133.8 205.8 135.2 211.8 135.9 215.3 137.9 216 140.5 215.3 144.4 211.8 146.4 205.8 147.1 200.9 148.5 199.4 150 199 151.5 199.6 153.5 201.3 154.9 205.8 156.1 211.8 156.8 214.8 158.4 215.9 160 215.9 163.5 215.3 165.3 212.3 167.1 205.8 168 200.8 169.4 199.4 171 199 172.5 199.7 174.5 201.3 175.8 205.8 177 211.8 177.7 214.4 179 215.8 180.5 216 183.5 215.3 186.2 212.3 188 205.8 188.9 200.8 190.3 199.3 192 198.8 194Z"/>
<path fill="#9D1A50" d="M195.3 194 172.6 194 172.4 193.5 173.8 191.2 180.8 188 183.1 186.5 184.3 185 184.7 183 184.3 180.9 182.8 179.1 173.8 174.6 172.4 172.5 173.8 170.3 182.8 165.9 184.3 164 184.7 162 184.3 160 183.2 158.5 180.9 157 173.8 153.7 172.4 151.5 173.8 149.5 182.8 145 184.3 143.2 184.7 141 184.2 139 182.8 137.3 173.8 132.8 172.5 131 172.6 130 173.8 128.6 182.9 124 184.2 122.5 184.7 120.5 184.4 118.5 182.9 116.5 173.8 112 172.4 110 172.7 109 173.8 107.7 181.3 104.2 183.6 102.5 184.7 100 184.4 97.5 183.4 96 181.8 94.8 173.8 91.1 172.5 89.5 172.5 88.5 173.8 86.8 182.8 82.3 184.3 80.5 184.7 78.5 184.3 76.5 182.8 74.6 173.8 70.2 172.4 68 173.8 65.9 182.8 61.5 184.3 59.6 184.7 57.5 184.3 55.5 183.1 54 173.8 49.3 172.7 48 172.4 47 173.8 45 181.3 41.5 183.4 40 184.7 37.5 184.4 35 183.5 33.5 181.8 32.1 173.8 28.4 172.6 27 172.4 26 173.8 24.1 181.3 20.6 183.5 19 184.4 17.5 184.7 15.5 183.4 12.5 210 12.5 211.8 12.8 213.5 14.5 213.7 16.5 212.8 18 211.8 18.8 201.3 20.5 198.8 21.4 196.4 23.5 195.7 27 196.8 29.6 199.6 31.5 211.8 33.7 213.5 35.5 213.7 37.5 211.8 39.7 201.3 41.3 198.4 42.5 196.3 44.5 195.6 47.5 196.4 50 198.3 51.7 201.3 52.9 211.8 54.6 213.3 56 213.8 58 213.1 59.5 211.8 60.6 201.3 62.2 198.3 63.4 196.2 65.5 195.6 68.5 196.5 71 198.3 72.6 201.3 73.8 211.8 75.5 213.4 77 213.8 79 213 80.5 211.8 81.5 201.3 83.1 198.8 84.1 196.5 86 195.6 89 196.3 91.6 198.3 93.5 201.3 94.7 211.8 96.4 213.4 98 213.8 99.5 213.3 101 211.8 102.4 201.3 104 198.3 105.2 196.3 107.2 195.6 110 196.3 112.5 198.5 114.5 201.3 115.6 211.8 117.3 213.5 119 213.8 120.5 213.2 122 211.8 123.2 201.3 124.9 198.5 126 196.3 128 195.6 131 196.4 133.5 198.3 135.3 201.3 136.5 211.8 138.2 213.3 139.5 213.8 141.5 213.1 143 211.8 144.1 201.3 145.8 198.8 146.7 196.6 148.5 195.6 151.5 196.3 154.3 198.3 156.2 201.3 157.4 211.8 159 213.3 160.5 213.8 162.5 213 164 211.8 165 201.3 166.7 198.8 167.6 196.5 169.5 195.6 172.5 196.3 175.1 198.3 177.1 201.3 178.3 211.8 179.9 213.4 181.5 213.8 183 213.3 184.5 211.8 185.9 201.3 187.6 198.3 188.8 196.3 190.7 195.6 194 195.3 194Z"/>
<rect x="127.8" y="12.5" width="88.4" height="181.5" fill="none" stroke="#b0a69c" stroke-width=".9"/>
<path d="M127.8 22.6h1.7M216.2 22.6h-1.7M127.8 32.7h1.7M216.2 32.7h-1.7M127.8 42.8h1.7M216.2 42.8h-1.7M127.8 52.8h1.7M216.2 52.8h-1.7M127.8 62.9h1.7M216.2 62.9h-1.7M127.8 73h1.7M216.2 73h-1.7M127.8 83.1h1.7M216.2 83.1h-1.7M127.8 93.2h1.7M216.2 93.2h-1.7M127.8 103.2h1.7M216.2 103.2h-1.7M127.8 113.3h1.7M216.2 113.3h-1.7M127.8 123.4h1.7M216.2 123.4h-1.7M127.8 133.5h1.7M216.2 133.5h-1.7M127.8 143.6h1.7M216.2 143.6h-1.7M127.8 153.7h1.7M216.2 153.7h-1.7M127.8 163.8h1.7M216.2 163.8h-1.7M127.8 173.8h1.7M216.2 173.8h-1.7M127.8 183.9h1.7M216.2 183.9h-1.7M138.8 12.5v1.7M138.8 194v-1.7M149.9 12.5v1.7M149.9 194v-1.7M160.9 12.5v1.7M160.9 194v-1.7M172 12.5v1.7M172 194v-1.7M183.1 12.5v1.7M183.1 194v-1.7M194.1 12.5v1.7M194.1 194v-1.7M205.2 12.5v1.7M205.2 194v-1.7" stroke="#4a4a4a" stroke-width=".75" fill="none"/>
<rect x="227" y="12.5" width="88.4" height="181.5" fill="#176AA6"/>
<path fill="#1E7CC4" d="M315.5 194 267.6 194 268.9 192.5 269 191.5 268 190 266 188.6 259 188.7 257 188.2 254 186.8 252.5 184.5 252.2 179.5 252.8 177.5 254.1 176 256 174.9 259 174.1 266 174.3 268.3 172.5 269 171 268.3 169.5 266 167.7 259 167.9 256 167 254 165.9 252.8 164.5 252.1 162 252.1 159.5 252.7 157 254.5 154.8 257.5 153.6 259 153.3 266 153.4 268.4 151.5 269 150 268.2 148.5 266 146.8 259 147 256 146.2 254 145.1 252.3 142 252.4 137 253.5 134.8 255.5 133.4 259 132.4 266 132.6 268.1 131 269 129.5 268.5 128 266 126 259 126.1 256 125.3 254 124.2 253 123 252.2 121 252.3 116.5 253.5 114 255.5 112.6 259 111.6 266 111.7 268.2 110 269 108.5 268.4 107 266 105.1 259 105.3 254.2 103.5 253 102.2 252.3 100.5 252.2 96 253.2 93.5 255 91.9 259 90.7 266 90.8 268.4 89 269 87.5 268.3 86 266 84.3 259 84.4 254.5 82.9 253.1 81.5 252.4 80 252.1 75.5 253 72.9 255 71.1 259 69.8 266 70 268.5 68 269 66.5 268.1 65 266 63.4 259 63.6 254.5 62 252.5 59.5 252.1 55 253 52 255 50.2 259 49 266 49.1 268.2 47.5 269 46 268.5 44.5 266 42.5 259 42.7 254.3 41 252.5 38.5 252.1 34 253 31.2 255 29.4 259 28.1 266 28.3 268.3 26.5 269 25 268.3 23.5 266 21.7 259 21.8 254.1 20 253 18.7 252.3 17 252.2 12.5 315.5 12.5 315.5 194ZM231.5 30 227 30.3 227 19.6 235 20.7 237.1 22 238.4 24 238.5 25.5 237 28.1 235 29.3 231.5 30ZM230 51 227 51.2 227 40.5 233 41 235.5 41.7 237.5 43.3 238.6 45.5 238 47.6 236.3 49.5 233.5 50.6 230 51ZM228 72 227 72.1 227 61.3 233.7 62 236 62.9 237.4 64 238.6 67 236.8 70 233.5 71.4 228 72ZM232 92.5 227 92.9 227 82.2 234.5 83.1 236.5 84 238.1 86 238.7 87.5 237.2 90.5 235 91.8 232 92.5ZM230.5 113.5 227 113.8 227 103 233 103.6 235.5 104.3 237.5 105.8 238.6 108 238 110.2 236.4 112 234 113 230.5 113.5ZM229 134.5 227 134.6 227 123.9 233.4 124.5 237 126.2 238.6 129 237.4 132 234.5 133.7 229 134.5ZM232.5 155 227 155.5 227 144.8 234.5 145.7 236.5 146.6 238 148.3 238.7 150 237.5 152.7 235.5 154.2 232.5 155ZM231.5 176 227 176.4 227 165.6 235 166.7 237.1 168 238.4 170 238.6 171.5 237 174.1 235 175.3 231.5 176ZM237.5 194 227 194 227 186.5 233 187 236.5 188.3 237.7 189.5 238.6 191.5 238.3 193 237.5 194Z"/>
<path fill="#2A8DD2" d="M315.5 194 270.5 194 271 191 269 187.3 266 185.4 259 186.3 256.8 185 255.3 183 255.3 180 257 177.7 259 176.6 266 177.4 269 175.5 270.6 173 271 171 270.6 169 269 166.4 266 164.5 259 165.4 256.1 163.5 255.1 161 255.8 158 258.5 155.9 266 156.6 269 154.7 270.7 152 271 150 270.6 148 269 145.6 266 143.7 259 144.6 256 142.5 255 140 255.9 137 258.6 135 266 135.7 269 133.8 270.5 131.5 271 129.5 270.7 127.5 269 124.7 266 122.8 259 123.7 256.3 122 255.1 119.5 255.4 117 257.1 115 259 114 266 114.9 269 113 270.6 110.5 271 108.5 270.6 106.5 269 103.8 266 102 259 102.8 256.2 101 255.1 98.5 255.8 95.5 258.5 93.3 266 94 269 92.1 270.6 89.5 271 87.5 270.6 85.5 269 83 266 81.1 259 82 256.5 80.4 255.1 78 255.6 75 256.8 73.5 258.5 72.5 266 73.1 269 71.3 270.7 68.5 271 66.5 270.5 64.5 269 62.1 266 60.2 259 61.1 256.4 59.5 255.2 57.5 255.4 54.5 257 52.5 259 51.4 266 52.3 269 50.4 270.5 48 271 46 270.7 44 269.2 41.5 266 39.4 259 40.3 256.8 39 255.5 37.4 255.1 34.5 255.7 33 257 31.7 259 30.5 266 31.4 269 29.5 270.6 27 271 25 270.6 23 269.1 20.5 266 18.5 259 19.4 257 18.3 255.8 17 255.1 15.5 255.5 12.5 314.9 12.5 314.8 16 315.5 20.9 315.5 29.1 314.8 35.5 315.5 41.7 315.5 49.9 314.8 56.5 315.5 62.6 315.5 70.8 314.8 77.5 315.5 83.5 315.5 91.6 314.8 98 315.5 104.3 315.5 112.5 314.8 119 315.5 125.2 315.5 133.4 314.8 140 315.5 146 315.5 153.5 314.8 160.5 315.5 166.9 315.5 173.5 314.8 181.5 315.5 187.8 315.5 194ZM228 28.6 227 28.7 227 21.3 233 22.7 235.7 25 233 27.3 228 28.6ZM227.5 49.5 227 49.5 227 42.1 233 43.5 235.4 45.5 235.1 46.5 233 48.1 227.5 49.5ZM229 70.1 227 70.4 227 63 233 64.4 235.6 66.5 235 67.5 233 69 229 70.1ZM228.5 91.1 227 91.2 227 83.9 233 85.3 235.7 87.5 233 89.8 228.5 91.1ZM228 112 227 112.1 227 104.7 233 106.1 235.6 108.5 233 110.7 228 112ZM229.5 132.6 227 133 227 125.6 233 127 235.5 129 235.5 129.5 233.5 131.3 229.5 132.6ZM229 153.5 227 153.8 227 146.4 233 147.8 235.6 150 233 152.4 229 153.5ZM228.5 174.5 227 174.7 227 167.3 233 168.7 235.7 171 233 173.3 228.5 174.5ZM233 194 227 194 227 188.2 232.5 189.4 235 191 235.6 192 233 194Z"/>
<path fill="#3C9CDA" d="M259.5 16.6 258.9 16.5 258.2 15 258.9 12.5 261.1 13 262.8 14 262.9 15 262.3 15.5 259.5 16.6ZM314.5 194 272.5 194 273 192 272.7 190 267.2 182 267.6 180 272.1 174 273.1 171 272.1 168 267.6 162 267.2 160.5 267.7 159 272.2 153 273.1 150 272 147 267.8 141.5 267.2 140 267.7 138 272.3 132 273 129.5 272.2 126.5 267.7 120.5 267.2 119 267.8 117 272.3 111 273.1 108.5 272.2 105.5 267.6 99.5 267.2 98 267.6 96.5 272.1 90.5 273.1 87.5 272.1 84.5 267.9 79 267.2 77.5 267.7 75.5 272.2 69.5 273 66.5 272 63.5 267.8 58 267.2 56.5 267.8 54.5 272.3 48.5 273 46 272.2 43 267.2 36 267.6 34 272.1 28 273.1 25 272.1 22 267.4 15.5 267.2 14 268 12.5 313.6 12.5 313.4 15.5 315 25 313.4 35.5 315 45.5 313.4 56 315 66.5 313.4 77 315 87.5 313.4 98 315 108 313.4 119 315 129 313.4 139.5 314.9 149.5 314.7 153.5 313.4 160.5 315 170.5 314.7 174.5 313.4 181 314.9 190 314.9 193.5 314.5 194ZM229 26.5 227 27 227 23 232.5 25 229 26.5ZM259 37.5 258.1 35.5 259 33.3 261.5 34 262.9 35 262.8 36 262.1 36.5 259 37.5ZM228.5 47.6 227 47.8 227 43.8 230.5 44.8 232.3 46 228.5 47.6ZM260.5 58 259 58.4 258.4 57.5 258.1 56 259 54.1 261.8 55 263 56 262.6 57 260.5 58ZM228 68.6 227 68.7 227 64.7 232.2 66.5 231.5 67.3 228 68.6ZM260 79 259 79.2 258.3 78 258.2 76.5 259 75 262 76 263 77 262.4 78 260 79ZM227.5 89.6 227 89.6 227 85.5 232.5 87.5 227.5 89.6ZM259.5 100 258.9 100 258.2 98.5 258.3 97 259 95.9 262.9 97.5 262.8 98.5 262.2 99 259.5 100ZM228.5 110.1 227 110.4 227 106.4 230 107.2 232.4 108.5 228.5 110.1ZM260.5 120.6 259 121 258.4 120 258.1 118.5 259 116.7 261.6 117.5 262.9 118.5 262.7 119.5 260.5 120.6ZM228 131.1 227 131.3 227 127.3 232.1 129 232 129.6 228 131.1ZM260 141.6 259 141.8 258.2 140.5 258.2 139 259 137.6 261.9 138.5 263 139.5 262.5 140.5 260 141.6ZM228 152 227 152.1 227 148.1 232.4 150 228 152ZM259.5 162.6 258.8 162.5 258.1 161 258.3 159.5 259 158.4 262.1 159.5 263 160.5 262.3 161.5 259.5 162.6ZM227.5 173 227 173 227 169 232.6 171 227.5 173ZM259 183.5 258.1 181.5 259 179.3 261.4 180 262.9 181 262.8 182 262.1 182.5 259 183.5ZM228.5 193.6 227 193.9 227 189.8 230.5 190.8 232.3 192 228.5 193.6Z"/>
<path fill="#7CC4EC" d="M313.5 194 274.5 194 275.1 192 274.7 190 270.2 182.5 270.5 179.5 274.4 173.5 275.1 171 274.4 168.5 270.7 163 270 160.5 270.8 158 274.4 152.5 275.1 150 274.3 147.5 270.9 142.5 270.1 140 270.6 137.5 274.3 132 275.1 129.5 274.5 127 270.8 121.5 270.1 119 270.6 116.5 274.3 111 275.1 108.5 274.4 106 270.7 100.5 270 98 270.7 95.5 274.4 90 275.1 87.5 274.4 85 270.9 80 270.1 77.5 270.5 75 274.2 69.5 275.1 66.5 274.5 64.5 270.9 59 270.1 56.5 270.6 54 274.3 48.5 275.1 46 274.5 43.5 271.1 38.5 270.1 36 270.4 33.5 274.4 27.5 275.1 25 274.4 22.5 270.3 16 270 14.5 270.5 12.5 311.1 12.5 310.2 14 310.2 15 312.5 18.5 313.4 21.5 313.8 25 313.4 28.5 312.5 31.5 310.6 34 310.1 35.5 313 40.8 313.7 44 313.8 47 312.5 52.3 310.5 55 310.2 56.5 312.9 61.5 313.8 67.5 312.5 73.2 310.1 77 310.5 78.3 312.8 82 313.8 88 312.5 94 310.7 96.5 310.1 98 312.9 103 313.8 109 312.5 114.9 310.6 117.5 310.1 119 312.5 122.8 313.6 126.5 313.8 129.5 312.5 135.8 310.1 139.5 310.5 141 312.8 144.5 313.8 150.5 312.5 156.6 310.1 160.5 312.8 165.5 313.8 171.5 312.5 177.5 310.6 180 310.1 181.5 312.5 185.4 313.2 187.5 313.8 191 313.5 194ZM228 25.1 227 25.3 227 24.7 228 25.1ZM227.5 46.2 227 46.2 227 45.5 227.9 46 227.5 46.2ZM227.5 67 227 67 227 66.4 227.9 66.5 227.5 67ZM228 87.6 227 87.9 227 87.2 228 87.6ZM228 108.6 227 108.7 227 108.1 228 108.6ZM227.5 129.6 227 129.6 227 128.9 227.7 129 227.5 129.6ZM228 150 227 150.4 227 149.8 228 150ZM228 171.1 227 171.3 227 170.7 228.3 171 228 171.1ZM227.5 192.2 227 192.2 227 191.5 228 192 227.5 192.2Z"/>
<path fill="#A8DAF3" d="M312 194 277.1 194 277.7 192 277.3 190 273.4 185 272.2 182.5 272.1 181 272.7 179 276.9 173.5 277.7 171 276.9 168.5 272.7 163 272.1 160.5 273 157.5 277 152.5 277.7 150 276.9 147.5 272.9 142.5 272.1 140 272.8 137 276.8 132 277.7 129.5 277.1 127 273.1 122 272.1 119 272.9 116 276.9 111 277.7 108.5 277 106 272.7 100.5 272.1 98 272.7 95.5 277 90 277.7 87.5 277.2 85.5 273.2 80.5 272.1 77.5 272.8 74.5 277.1 69 277.7 66.5 276.8 64 272.9 59 272.1 56.5 272.9 53.5 276.8 48.5 277.7 46 277 43.5 273.4 39 272.1 36 272.7 33 276.9 27.5 277.7 25 277 22.5 272.5 16.5 272.1 14.5 272.5 12.5 308 12.5 307.2 14 307.3 15.5 311.3 20.5 312.4 23 312.5 26 312 28.1 307.8 33.5 307.1 35.5 307.6 37 311.7 42 312.6 45.5 311.8 49.5 307.8 54.5 307.1 56.5 307.7 58 311.7 63 312.6 66.5 311.7 70.5 307.7 75.5 307.1 77 307.8 79 311.5 83.5 312.6 87 311.9 91 307.9 96 307.1 98 307.9 100 311.6 104.5 312.6 108 311.8 112 307.8 117 307.1 119 307.7 120.5 311.5 125.1 312.5 128.5 312.4 131 311.7 133 307.7 138 307.1 139.5 307.8 141.5 311.5 146 312.5 149 312.5 151.5 311.9 153.5 307.6 159 307.1 160.5 307.9 162.5 311.5 166.9 312.5 169.5 312.5 172.3 311.8 174.5 307.9 179.5 307.1 181.5 307.6 183 311 187 312.1 189 312.6 192 312.3 194 312 194Z"/>
<path fill="#DDF0FA" d="M310.5 194 280.1 194 280.5 191.5 280 189.5 278 187 275 184.4 274.2 182.5 274.1 180.5 275 178.5 279.6 174 280.6 171 279.5 167.8 275 163.5 274.1 160.5 275 157.6 279.7 153 280.6 150 279.9 147.5 278 145.2 275 142.7 274.1 140 275 136.7 279.4 132.5 280.6 129.5 279.8 126.5 275 121.8 274.1 119 275 115.9 279.6 111.5 280.6 108.5 279.7 105.5 275 101 274.1 98.5 274.2 97 275 95 279.5 90.7 280.6 87.5 279.6 84.5 275 80.1 274.1 77.5 275 74.1 279.4 70 280.2 68.5 280.6 66.5 279.5 63.5 275 59.2 274.1 57 274.1 55.5 274.9 53.5 279.5 49 280.6 46 279.7 43 275 38.4 274.1 36 274.1 34.5 274.9 32.5 279.6 28 280.6 25 279.6 22 274.7 17 274.1 14.5 274.5 12.5 304.8 12.5 303.9 14.5 304.4 16 309.2 20.5 310.9 24 310.7 26.5 309.8 28.5 308 30.7 304.7 33.5 303.9 35.5 304.9 37.5 309.5 41.8 310.9 45.5 310.7 47.5 309.8 49.5 304.6 54.5 303.9 56.5 305 58.5 309.5 62.7 310.5 64.5 310.9 66.5 310.7 68.5 309.7 70.5 304.9 75 303.9 77 304.7 79 309.5 83.5 310.9 87 310.8 89 309.9 91 308 93.3 304.8 96 303.9 98 304.8 100 309.6 104.5 310.9 108 310.7 110 309.8 112 308 114.2 304.7 117 303.9 119 304.9 121 309.3 125 310.9 128.5 310.7 131 309.7 133 307.5 135.5 305 137.5 303.9 139.5 304.6 141.5 309.5 146.1 310.9 149.5 310.6 152 309.6 154 304.8 158.5 303.9 160.5 304.7 162.5 309.5 166.9 310.8 170 310.7 172.5 309.8 174.5 308 176.8 304.7 179.5 303.9 181.5 304.9 183.5 308.4 186.5 310.2 189 310.9 191.5 310.5 194Z"/>
<path fill="#FAD2E2" d="M308.5 194 283.7 194 283.9 190.5 283.1 188 281.5 186 279 184.1 277.6 182 277.6 181 278.3 179.5 283 175 283.9 171 283 166.9 281.4 165 278.8 163 277.6 160.5 278.9 158 281 156.5 283 154.2 283.9 150 283 146 281 143.8 279 142.4 277.6 140 278.6 137.5 283 133.4 283.9 129.5 283.7 127 283 125.2 281.1 123 278.9 121.5 277.6 119 278.7 116.5 283 112.5 283.9 108.5 283 104.3 281 102.1 278.8 100.5 277.6 98 278.8 95.5 281 93.9 283 91.6 283.9 87.5 283 83.5 281 81.2 279 79.8 277.6 77.5 278.5 75 283 70.8 283.9 67 283.7 64.5 282.9 62.5 281 60.4 279 59 277.6 56.5 278.6 54 282.9 50 283.9 46 283 41.7 281 39.5 279 38.1 277.6 36 277.6 35 278.3 33.5 283 29 283.9 25.5 283.8 23 283 20.9 281 18.6 279 17.3 277.8 15.5 277.6 14 278.4 12.5 295.5 12.5 295.1 15.5 296.6 18 304 18.7 307.5 20.8 309.2 24 308.9 27 307 29.6 303.5 31.4 297 31.7 295.5 33.3 295 35.5 295.5 37.5 297 39.1 303.5 39.4 307 41.2 308.5 43 309.3 45.5 308.8 48 307 50.5 303.5 52.2 297 52.5 295.6 54 295 56 295.6 58.5 297 60 304 60.4 307.5 62.5 309.3 66 308.8 69 307 71.4 303.5 73.1 297 73.4 295.5 75 295 77 295.5 79.2 297 80.9 303.5 81.2 307 82.9 308.7 85 309.3 87 308.9 89.5 307 92.2 303.5 93.9 297 94.2 295.5 95.9 295 98 295.5 100.1 297 101.7 304 102.2 307.5 104.2 309.2 107.5 308.9 110.5 307 113.1 303.5 114.8 297 115.1 295.5 116.7 295 119 295.5 121 297 122.6 303.5 122.9 307 124.6 308.5 126.5 309.2 128.5 308.8 131.5 307 133.9 303.5 135.7 297 136 295.5 137.5 295 139.5 295.5 141.8 297 143.4 304 143.9 307.5 145.9 309.2 149 309 152 307 154.8 303.5 156.5 297 156.8 295.5 158.4 295 160.5 295.5 162.7 297 164.3 304 164.7 307 166.3 308.9 169 309.1 172.5 307 175.7 303.5 177.4 297 177.7 295.5 179.3 295 181.5 295.5 183.5 297 185.2 303.5 185.5 307 187.2 309.1 190.5 309.2 193 308.5 194Z"/>
<path fill="#F6AAC6" d="M304.5 28.6 303.5 29 300.5 28.6 298.8 27.5 297.7 25 298.8 22.5 300.5 21.4 303.5 21 307 22.6 307.7 24.5 307.4 26.5 307 27.3 304.5 28.6ZM304.5 49.5 303.5 49.8 300.5 49.4 298.5 48 297.8 45.5 298.3 44 299.2 43 300.5 42.2 303.5 41.8 307 43.5 307.7 45.5 307.4 47.5 307 48.2 304.5 49.5ZM304 70.6 300.5 70.3 298.2 68.5 297.7 67 297.9 65.5 299.7 63.5 303.5 62.7 307.1 64.5 307.7 66.5 307.3 68.5 307 69.1 304 70.6ZM303.5 91.6 300.2 91 298.1 89 297.7 87.5 298.1 86 300.5 84 304 83.6 307 85.2 307.4 86 307.7 88 307 89.9 303.5 91.6ZM304.5 112.1 303.5 112.4 300.5 112 298.4 110.5 297.8 108 298.3 106.5 299.3 105.5 300.5 104.8 303.5 104.4 307 106 307.7 108 307.4 110 307 110.8 304.5 112.1ZM304 133.2 300.5 132.9 298.2 131 297.7 129.5 298 128 299.8 126 303.5 125.3 307.1 127 307.7 129 307.4 131 307 131.6 304 133.2ZM304 154.1 300.5 153.7 298.3 152 297.8 150.5 297.9 149 299.6 147 303.5 146.1 307.1 148 307.7 150 307.3 152 304 154.1ZM303.5 175 300.3 174.5 298.8 173.5 298 172.3 298.1 169.5 300.5 167.4 304 167.1 307 168.6 307.5 169.5 307.7 171.5 307 173.4 303.5 175ZM307 194 298.5 194 297.8 192.5 298 190.5 299 189.2 300.5 188.3 304 187.9 307.3 190 307.7 192 307 194Z"/>
<rect x="227" y="12.5" width="88.4" height="181.5" fill="none" stroke="#b0a69c" stroke-width=".9"/>
<path d="M227 22.6h1.7M315.4 22.6h-1.7M227 32.7h1.7M315.4 32.7h-1.7M227 42.8h1.7M315.4 42.8h-1.7M227 52.8h1.7M315.4 52.8h-1.7M227 62.9h1.7M315.4 62.9h-1.7M227 73h1.7M315.4 73h-1.7M227 83.1h1.7M315.4 83.1h-1.7M227 93.2h1.7M315.4 93.2h-1.7M227 103.2h1.7M315.4 103.2h-1.7M227 113.3h1.7M315.4 113.3h-1.7M227 123.4h1.7M315.4 123.4h-1.7M227 133.5h1.7M315.4 133.5h-1.7M227 143.6h1.7M315.4 143.6h-1.7M227 153.7h1.7M315.4 153.7h-1.7M227 163.8h1.7M315.4 163.8h-1.7M227 173.8h1.7M315.4 173.8h-1.7M227 183.9h1.7M315.4 183.9h-1.7M238.1 12.5v1.7M238.1 194v-1.7M249.1 12.5v1.7M249.1 194v-1.7M260.1 12.5v1.7M260.1 194v-1.7M271.2 12.5v1.7M271.2 194v-1.7M282.2 12.5v1.7M282.2 194v-1.7M293.3 12.5v1.7M293.3 194v-1.7M304.4 12.5v1.7M304.4 194v-1.7" stroke="#4a4a4a" stroke-width=".75" fill="none"/>
<rect x="325.5" y="56.8" width="7.2" height="7" fill="#9D1A50"/>
<rect x="325.5" y="63.5" width="7.2" height="7" fill="#BE1660"/>
<rect x="325.5" y="70.2" width="7.2" height="7" fill="#DC1272"/>
<rect x="325.5" y="76.9" width="7.2" height="7" fill="#EC1280"/>
<rect x="325.5" y="83.6" width="7.2" height="7" fill="#F07AA5"/>
<rect x="325.5" y="90.3" width="7.2" height="7" fill="#F6AAC6"/>
<rect x="325.5" y="97" width="7.2" height="7" fill="#FAD2E2"/>
<rect x="325.5" y="103.7" width="7.2" height="7" fill="#DDF0FA"/>
<rect x="325.5" y="110.3" width="7.2" height="7" fill="#A8DAF3"/>
<rect x="325.5" y="117" width="7.2" height="7" fill="#7CC4EC"/>
<rect x="325.5" y="123.7" width="7.2" height="7" fill="#3C9CDA"/>
<rect x="325.5" y="130.4" width="7.2" height="7" fill="#2A8DD2"/>
<rect x="325.5" y="137.1" width="7.2" height="7" fill="#1E7CC4"/>
<rect x="325.5" y="143.8" width="7.2" height="7" fill="#176AA6"/>
<rect x="325.5" y="56.8" width="7.2" height="93.7" fill="none" stroke="#555" stroke-width=".6"/>
<rect x="28.6" y="224.3" width="88.4" height="181.5" fill="#176AA6"/>
<path fill="#1E7CC4" d="M117.1 405.8 28.6 405.8 28.6 224.3 117.1 224.3 117.1 405.8ZM47.7 246.8 48.1 245.3 47.6 244.5 46.6 244.3 45.9 245.3 46.1 246.3 46.6 246.9 47.7 246.8ZM47.8 280.8 48 279.3 47.6 278.7 46.6 278.5 46 279.3 46.1 280.6 47.1 281.2 47.8 280.8ZM47.5 315.3 48.1 313.7 47.6 312.9 46.6 312.7 45.9 313.8 46.1 314.8 46.6 315.3 47.5 315.3ZM47.8 349.3 48.1 347.8 47.6 347.1 46.6 346.9 46 347.8 46 348.8 46.6 349.5 47.8 349.3ZM47.2 383.8 47.9 383.3 48.1 382.3 47.1 381 46.4 381.3 45.9 382.3 46.2 383.3 47.2 383.8Z"/>
<path fill="#2A8DD2" d="M117.1 405.8 28.6 405.8 28.6 224.3 117.1 224.3 117.1 405.8ZM61.8 233.8 64.1 232.6 65.2 230.3 64.2 227.8 61.6 226.7 59.4 227.8 58.4 230.8 58.8 232.3 59.6 233.2 61.8 233.8ZM49.2 249.3 50.1 248.3 50.6 246.8 50.2 243.3 48.6 241.3 46.1 241 44.6 242 43.8 243.3 43.6 246.3 44.4 247.8 46.1 249.1 47.6 249.6 49.2 249.3ZM62.6 267.8 64.6 266.2 65.1 263.8 63.6 261.5 61.1 260.9 59.6 261.7 58.9 262.8 58.5 265.8 60.1 267.7 62.6 267.8ZM48.2 283.8 49.5 283.3 50.2 282.3 50.5 278.8 49.1 275.8 48.1 275.2 46.6 275 45.1 275.7 44.1 276.8 43.4 279.8 43.9 281.3 45.1 282.6 48.2 283.8ZM63.1 301.8 64.9 299.8 64.9 297.3 63.1 295.4 60.6 295.3 58.7 297.3 58.6 300.3 59.2 301.3 60.6 302.1 63.1 301.8ZM49 317.8 50.1 316.8 50.6 315.3 50.2 311.8 48.6 309.7 46.1 309.4 43.9 311.3 43.4 313.3 43.6 314.8 45.7 317.3 47.6 318 49 317.8ZM62.3 336.3 64.5 334.8 65.1 332.3 63.6 329.9 61.1 329.3 59.1 330.8 58.5 333.8 59.6 335.8 61.1 336.4 62.3 336.3ZM49.4 351.8 50.6 349.3 50.1 345.8 48.6 343.9 46.1 343.6 44.6 344.6 43.8 345.8 43.4 347.8 43.7 349.3 44.8 350.8 46.3 351.8 48.1 352.2 49.4 351.8ZM62.8 370.3 64.9 368.3 65 365.8 63.1 363.8 60.6 363.7 59.6 364.3 58.7 365.8 58.7 368.8 60.6 370.5 62.8 370.3ZM48.8 386.3 49.6 385.8 50.4 384.3 50.3 380.3 48.6 378 46.1 377.8 43.9 379.8 43.4 381.8 43.6 383.3 44.6 384.8 45.9 385.8 48.8 386.3ZM61.8 404.8 64.1 403.6 65.2 401.3 64.2 398.8 61.6 397.7 59.4 398.8 58.4 401.8 58.8 403.3 59.6 404.2 61.8 404.8Z"/>
<path fill="#3C9CDA" d="M48.6 405.8 28.6 405.8 28.6 224.3 55.7 224.3 56 225.3 55.7 228.8 54.6 231.3 52.1 233.1 43.4 237.8 41.4 240.3 40.5 243.3 41.4 246.3 43.8 248.8 46.6 250.5 54.1 253.6 54.6 256.3 56 259.8 55.6 263.3 54.6 265.4 52.6 267.1 43.6 271.8 41.5 274.3 40.5 277.3 41.3 280.3 44.2 283.3 46.6 284.7 54.1 287.8 54.5 290.3 56 293.8 55.7 297.3 54.5 299.8 52.1 301.5 43.3 306.3 41.6 308.3 40.6 311.3 41.1 314.3 43.9 317.3 46.6 318.9 53.9 321.8 56 327.8 55.7 331.3 54.6 333.8 52.6 335.4 43.5 340.3 41.4 342.8 40.5 345.8 41.3 348.8 43.6 351.3 46.6 353.1 54.1 356.2 54.6 358.8 55.9 361.8 55.6 365.8 54.4 368.3 52.1 369.9 43.8 374.3 41.6 376.7 40.6 379.3 41 382.3 43.4 385.3 46.6 387.3 54 390.3 54.7 393.3 55.9 395.8 55.8 399.3 54.9 401.8 53.1 403.5 48.6 405.8ZM117.1 405.8 63.9 405.8 66.8 402.8 67.2 400.8 66.9 399.3 64.6 396.8 58.6 393.8 57.3 390.8 55.1 389.3 53.4 382.3 53.8 378.3 57.1 375 65 370.8 66.7 368.8 67.2 366.8 66.7 364.8 65.5 363.3 58.8 359.8 57.4 356.8 55.3 355.3 53.4 347.3 53.6 344.8 54.7 342.8 57.6 340.5 64.8 336.8 66.6 334.8 67.2 332.8 66.8 330.8 65.7 329.3 63.6 327.8 59.1 325.8 57.1 322.2 55.1 320.8 53.4 313.3 53.7 310.3 55 308.3 57.7 306.3 64.6 302.7 66.4 300.8 67.2 298.8 66.9 296.8 65.9 295.3 63.6 293.6 58.7 291.3 57.3 288.3 55.2 286.8 53.4 279.3 53.6 276.3 54.8 274.3 57.6 272.1 64.6 268.5 66.3 266.8 67.2 264.8 67 262.8 66.1 261.3 63.6 259.4 59 257.3 57.5 254.3 55.4 252.8 53.5 245.8 53.6 242.3 54.6 240.3 57.6 237.9 64.1 234.7 66.1 232.9 67 231.3 67.2 229.3 66.2 227.3 64.6 225.8 61.8 224.3 117.1 224.3 117.1 405.8Z"/>
<path fill="#7CC4EC" d="M45.1 405.8 28.6 405.8 28.6 224.3 52.7 224.3 53.2 226.8 53.2 228.8 52.2 230.8 50.1 232.4 40.6 237.6 38.7 239.8 37.8 242.8 38.2 244.8 39.7 246.8 49.1 253.1 50.9 254.8 52.5 257.8 53.3 261.8 52.9 263.8 51.3 265.8 42.9 270.3 40 272.3 38.6 274.3 37.8 276.8 38.1 278.8 39.5 280.8 50.7 288.8 52.4 291.8 53.3 295.8 53 297.8 51.6 299.8 40.3 306.3 38.4 308.8 37.8 311.3 38.2 313.3 39.8 315.3 50.5 322.8 52.3 325.8 53.3 329.8 53.1 331.8 51.8 333.8 40.6 340.2 38.8 342.3 37.8 345.3 38.1 347.3 39.6 349.3 43.6 352.4 49.2 355.8 50.8 357.3 52.3 359.8 53.2 363.3 53.2 365.8 52 367.8 40.7 374.3 38.9 376.3 37.9 378.8 37.9 380.8 38.9 382.8 42.5 385.8 50.1 390.8 51.7 392.8 52.9 395.8 53.3 399.3 52.6 401.3 50.1 403.4 45.1 405.8ZM117.1 405.8 65.9 405.8 68.9 402.3 69.2 400.8 68.9 399.3 67.2 397.3 60.6 392.3 56.7 383.3 56.5 380.8 57.5 378.3 60 375.8 67.3 370.3 68.8 368.3 69.2 366.8 69 365.3 68 363.8 60.4 357.8 56.8 349.3 56.4 347.3 56.8 345.3 58.2 343.3 67.1 336.3 68.7 334.3 69.2 332.8 68.8 330.8 67.7 329.3 60.5 323.8 56.9 315.3 56.4 313.3 56.7 311.3 58 309.3 66.9 302.3 68.6 300.3 69.2 298.3 68.9 296.8 67.9 295.3 61.7 290.8 60.3 289.3 56.4 279.3 56.7 277.3 57.8 275.3 67.2 267.8 68.8 265.8 69.2 264.3 68.8 262.3 67.6 260.8 60.5 255.3 56.5 245.3 56.8 242.8 58.1 240.8 66.5 234.3 68.9 231.3 69.2 229.3 68.6 227.8 64.5 224.3 117.1 224.3 117.1 405.8Z"/>
<path fill="#A8DAF3" d="M42.6 405.8 28.6 405.8 28.6 224.3 50.6 224.3 51.2 227.3 51 229.3 49.5 231.3 40.6 235.9 37.8 237.8 36 240.3 35.3 242.8 35.7 244.8 36.8 246.3 48.6 254.8 50.6 258.3 51.2 261.8 50.8 263.8 49.1 265.8 40.6 270 37.6 272.2 36.1 274.3 35.4 276.8 35.7 278.8 37.2 280.8 46.7 287.3 48.9 289.3 50.5 292.3 51.2 295.8 50.9 297.8 49.9 299.3 47.9 300.8 40.6 304.2 38.3 305.8 36.5 307.8 35.4 310.8 35.6 312.8 37 314.8 48.7 323.3 50.4 326.3 51.2 329.8 51 331.8 49.6 333.8 40.6 338.4 37.4 340.8 36 342.8 35.3 345.3 35.7 347.3 37.3 349.3 48.5 357.3 50.1 359.8 51.1 363.3 51.1 365.8 49.8 367.8 38.8 373.8 36.4 376.3 35.4 378.8 35.5 380.8 36.6 382.8 47.8 390.8 49.6 393 50.8 395.8 51.2 399.3 50.4 401.3 48 403.3 42.6 405.8ZM117.1 405.8 67.5 405.8 70.4 402.8 71 401.3 70.9 399.8 69.5 397.8 62.7 392.3 59 383.3 58.9 380.3 60.1 377.8 69 370.3 70.6 368.3 71 366.8 70.8 365.3 69.7 363.8 63.8 359.3 62.4 357.8 59.1 349.3 58.8 347.3 59.1 345.3 60.3 343.3 68.8 336.3 70.5 334.3 71 332.8 70.8 331.3 69.9 329.8 62.6 323.8 59.2 315.3 58.8 313.3 59 311.3 60.2 309.3 69.1 301.8 70.6 299.8 71 298.3 70.7 296.8 69.6 295.3 64.3 291.3 62.4 289.3 58.8 279.3 59.2 276.8 60.4 274.8 68.9 267.8 70.5 265.8 71 264.3 70.8 262.8 69.8 261.3 62.5 255.3 58.8 245.3 59.1 242.8 60.2 240.8 68.7 233.8 70.9 230.8 71 229.3 70.4 227.8 66.2 224.3 117.1 224.3 117.1 405.8Z"/>
<path fill="#DDF0FA" d="M32.1 405.8 28.6 405.8 28.6 224.3 45.6 224.3 45.3 225.8 44.2 226.8 40.6 227.6 36.6 229.7 32.6 230.4 32.4 232.3 32 243.3 32.6 250.1 37.6 251.3 42.5 254.3 44.7 256.3 45.6 258.8 45.1 260.3 44.1 261 40.6 261.8 36.6 263.9 32.6 264.6 32 276.8 32.6 284.3 37.1 285.3 42.2 288.3 44.6 290.3 45.6 292.8 45.3 294.3 44.1 295.2 40.6 296 36.6 298.1 32.6 298.8 32 310.8 32.5 317.8 32.6 318.5 37.6 319.7 42.7 322.8 44.8 324.8 45.6 327.3 45.1 328.8 44.1 329.4 40.6 330.2 36.6 332.3 32.6 333 32 344.3 32.2 349.8 32.6 352.7 37.1 353.7 42.4 356.8 44.7 358.8 45.6 361.3 45.2 362.8 44.1 363.6 40.6 364.4 36.6 366.5 32.6 367.2 32 379.8 32.6 386.9 37.6 388.1 42.8 391.3 44.9 393.3 45.6 395.8 45.1 397.1 44.1 397.8 40.6 398.6 36.6 400.7 32.6 401.4 32.1 405.8ZM117.1 405.8 69.3 405.8 72.1 402.8 72.7 401.3 72.6 399.8 71.1 397.6 64.6 392.3 61.3 383.3 61.1 380.3 62.2 377.8 64.6 375.3 70.8 370.3 72.3 368.3 72.7 366.8 72.5 365.3 71.5 363.8 65.6 359.3 64.4 357.8 61.5 349.8 61 347.3 61.4 345.3 62.4 343.3 71 335.8 72.7 332.8 72.5 331.3 71.6 329.7 64.5 323.8 61 313.3 61.5 310.8 62.7 308.8 70.9 301.8 72.3 299.8 72.7 298.3 72.4 296.8 71.4 295.3 65.6 290.9 64.3 289.3 61.1 279.3 61.4 276.8 62.5 274.8 70.7 267.8 72.2 265.8 72.7 264.3 72.5 262.8 71.6 261.3 65.7 256.8 64.4 255.3 61.1 245.3 61.3 242.8 62.8 240.3 70.5 233.8 72.6 230.8 72.7 229.3 72.1 227.8 68.1 224.3 117.1 224.3 117.1 405.8Z"/>
<path fill="#FAD2E2" d="M30.6 405.8 28.6 405.8 28.6 224.3 32.1 224.3 31 234.3 31 248.8 32.2 257.3 31.1 265.8 31 280.3 32.2 291.3 31.1 299.3 30.9 311.3 31.1 318.1 32.2 325.8 31.1 333.8 30.9 345.3 31.1 352.3 32.2 359.8 31.1 367.8 30.9 379.8 31.1 386.5 32.2 394.3 31 405.8 30.6 405.8ZM117.1 405.8 71.8 405.8 74.3 402.3 74.3 399.3 72.6 396.9 67.6 392.3 64.8 384.3 64.5 380.3 65.5 377.3 72.6 370.7 73.9 368.8 74.5 366.8 73.5 363.8 68.6 359.3 67.1 357.3 64.4 347.8 64.6 345.3 65.6 342.9 72.6 336.5 73.8 334.8 74.5 332.8 74.4 331.3 73.3 329.3 67.2 323.3 65 316.8 64.4 313.3 64.7 310.8 65.6 308.7 72.6 302.3 74 300.3 74.5 298.3 73.5 295.3 68.5 290.8 67.1 288.9 64.9 282.3 64.4 279.3 64.6 276.8 65.6 274.5 72.6 268.1 73.9 266.3 74.5 264.3 74.4 262.8 73.2 260.8 68.2 256.3 67.1 254.8 64.5 245.8 64.6 242.8 65.6 240.3 72.1 234.5 74.4 230.8 74 227.8 70.7 224.3 114.9 224.3 113.8 226.3 113.8 228.3 115.1 230.3 117.1 231 117.1 257.3 114.6 258.8 113.7 261.3 114.6 264 117.1 265.2 117.1 291.5 114.6 293.1 113.7 295.8 114.6 298.2 117.1 299.4 117.1 325.7 114.6 327.3 113.7 329.8 114.6 332.4 117.1 333.6 117.1 359.9 114.6 361.5 113.7 364.3 114.6 366.6 117.1 367.8 117.1 394.1 114.6 395.7 113.7 398.3 114.6 400.8 117.1 402 117.1 405.8Z"/>
<path fill="#F6AAC6" d="M30.1 229.1 28.6 228.6 28.6 224.3 30.7 224.3 30.1 229.1ZM108.6 405.8 75.4 405.8 76.6 400.8 75.3 395.8 75.5 394.3 76.9 392.3 84.6 384.8 85.7 383.3 86.1 381.8 84.8 379.8 78.1 375.7 75.7 373.3 75.4 371.3 76.6 366.3 75.3 360.8 76.6 358.5 84.8 350.3 86.1 347.8 85.1 345.8 78.1 341.5 75.8 339.3 75.4 337.3 76.6 332.3 75.3 326.8 76.6 324.3 85.1 315.8 86.1 313.3 84.7 311.3 77.6 307 75.6 304.8 75.4 302.8 76.6 297.8 75.3 292.3 76.4 290.3 84.9 281.8 86.1 279.3 84.9 277.3 78.1 273.1 75.7 270.8 75.4 268.8 76.6 263.8 75.3 258.3 76.2 256.3 84.6 248 86.1 245.3 85.2 243.3 78.1 238.9 75.8 236.8 75.4 234.8 76.6 229.3 75.2 224.3 110.9 224.3 108.9 230.8 109.1 234.8 110.6 237.3 115.5 241.3 117.1 243.4 117.1 248.9 110.8 258.8 109.5 262.3 108.8 266.8 109 268.8 110 270.8 115.3 275.3 116.9 277.3 117.1 283.1 110.6 293.3 109.3 297.3 108.8 301.3 109.1 303.3 110.2 305.3 115.6 309.8 117.1 311.8 117.1 317.3 110.7 327.3 109.5 330.8 108.8 335.3 109 337.3 110.1 339.3 115.4 343.8 117.1 346 117.1 351.5 110.6 361.7 109.3 365.8 108.8 369.8 109.1 371.8 110.3 373.8 115.7 378.3 117.1 380.2 117.1 385.7 110.4 396.3 108.9 402.3 109.1 405.8 108.6 405.8ZM30.1 263.3 28.6 262.8 28.6 257.3 28.6 251.8 30.1 251.4 30.8 257.3 30.1 263.3ZM30.1 297.5 28.6 297 28.6 291.3 28.6 286 30.1 285.6 30.8 291.3 30.1 297.5ZM30.1 331.7 28.6 331.2 28.6 325.8 28.6 320.2 30.1 319.8 30.8 325.8 30.1 331.7ZM30.1 365.9 28.6 365.4 28.6 359.8 28.6 354.4 30.1 354 30.8 359.8 30.1 365.9ZM30.1 400.1 28.6 399.6 28.6 394.3 28.6 388.6 30.1 388.2 30.8 394.3 30.1 400.1Z"/>
<path fill="#F07AA5" d="M105.6 405.8 78.2 405.8 78.6 400.8 78.1 396.3 78.4 394.8 79.9 392.8 88.6 384.8 89.7 383.3 90.1 381.8 88.8 379.8 79.8 374.3 78.6 372.8 78.1 371.3 78.6 366.3 78.1 362.3 78.6 360.3 88.4 350.8 90.2 347.8 89.1 345.8 80 340.3 78.7 338.8 78.1 336.8 78.6 332.3 78.1 327.8 78.5 326.3 80 324.3 88.7 316.3 89.8 314.8 90.1 313.3 88.7 311.3 80.1 306.2 78.8 304.8 78.1 302.8 78.6 297.8 78.1 293.8 78.6 291.8 88.1 282.7 89.7 280.8 90.2 279.3 89 277.3 79.9 271.8 78.2 269.3 78.6 263.8 78.1 259.8 78.5 257.8 80.1 255.8 88.3 248.3 90.1 245.3 89.2 243.3 81.5 238.8 78.8 236.3 78.1 234.3 78.6 229.8 78.3 224.3 108.3 224.3 105.6 230.8 105.6 234.7 107.3 237.3 112.8 241.8 113.8 243.3 114.5 245.3 113.7 249.3 107.6 259.8 105.3 266.8 105.6 268.8 106.3 270.3 113 276.3 114.2 278.3 114.5 280.3 113.4 284.3 107.2 294.8 105.4 300.8 105.5 302.8 106.2 304.3 112.9 310.3 114.1 312.3 114.5 314.3 113.7 317.8 107.8 327.8 105.4 334.8 105.5 336.8 106.4 338.8 113.1 344.8 114.2 346.8 114.5 348.8 113.3 352.8 107.4 362.8 105.4 368.8 105.4 370.8 106.2 372.8 112.9 378.8 114.2 380.8 114.5 382.8 113.4 386.8 108.5 394.8 106.7 398.8 105.4 402.8 105.6 405.8Z"/>
<path fill="#EC1280" d="M103.1 405.8 80.5 405.8 80.4 405.3 80.7 400.8 80.4 396.8 80.9 394.8 82.4 392.8 91.1 384.8 92.2 383.3 92.7 381.8 91.4 379.8 82.2 374.3 81 372.8 80.4 370.8 80.7 366.3 80.4 362.3 81 360.3 90.5 351.3 92.1 349.3 92.7 347.8 92.4 346.8 91.1 345.4 82.5 340.3 81.1 338.8 80.4 336.8 80.7 332.3 80.4 328.3 80.9 326.3 82.5 324.3 90.8 316.8 92.3 314.8 92.7 313.3 91.2 311.3 82.1 305.8 80.4 302.8 80.4 293.8 81.1 291.8 90.6 282.8 92.2 280.8 92.7 279.3 91.5 277.3 82.4 271.8 81.1 270.3 80.5 268.8 80.4 259.8 81 257.8 82.6 255.8 90.4 248.8 92.1 246.8 92.7 245.3 91.7 243.3 83.2 238.3 80.9 235.8 80.4 233.8 80.7 224.3 105.9 224.3 103.3 230.3 103 234.3 104.5 236.8 110.6 242 112.1 245.3 111.4 249.3 105.2 259.8 102.9 266.8 103.1 268.8 103.9 270.3 110.7 276.3 111.8 278.3 112.1 280.3 111 284.3 104.8 294.8 102.9 300.8 103.1 302.8 103.8 304.3 110.5 310.3 111.8 312.3 112.1 314.3 111.1 318.3 105.4 327.8 102.9 334.8 103 336.8 103.6 338.3 110.8 344.8 111.9 346.8 112.1 348.8 111 352.8 104.8 363.3 103 368.8 103 370.8 103.8 372.8 110.6 378.8 111.8 380.8 112.1 382.8 111.1 386.8 106.2 394.8 104.2 398.8 103 402.8 103.1 405.8Z"/>
<path fill="#DC1272" d="M99.1 405.8 84.3 405.8 84.1 404.8 84.3 396.8 84.8 394.8 86.3 392.8 94.7 385.3 96.1 383.3 96.4 381.8 95.1 379.7 86 374.3 84.6 372.3 84.1 370.3 84.2 362.8 84.9 360.3 94.5 351.3 96 349.3 96.4 347.8 95.9 346.3 94.9 345.3 86.3 340.3 84.7 338.3 84.1 336.3 84.3 328.3 84.8 326.3 86.4 324.3 94.3 317.3 95.9 315.3 96.4 313.8 96 312.3 95.1 311.3 85.9 305.8 84.8 304.3 84.1 302.3 84.2 294.3 85 291.8 94.6 282.8 96 280.8 96.4 279.3 95.1 277.1 86.2 271.8 84.3 268.8 84.2 260.3 84.9 257.8 86.5 255.8 94.4 248.8 95.9 246.8 96.4 245.3 96 243.8 95.1 242.9 87.8 238.8 84.7 235.8 84.1 233.3 84.6 224.3 101.9 224.3 99.8 229.8 99.3 232.8 99.4 234.8 100.8 236.8 106.7 241.3 107.9 243.3 108.4 245.3 108.3 247.3 107.3 249.8 100.8 260.8 99.2 267.8 99.5 269.3 100.6 270.8 104.9 273.8 107.3 276.3 108.3 278.8 108.3 281.3 107.1 284.5 100.9 294.8 99.2 301.8 99.9 304.3 106.4 309.3 108.3 312.8 108.4 314.8 107.8 317.3 101.2 328.3 99.9 331.8 99.2 335.8 99.4 337.3 100.2 338.8 105.1 342.3 107 344.3 108.1 346.3 108.4 348.8 107.1 352.9 100.8 363.3 99.2 370.3 99.5 371.8 100.5 373.3 104.8 376.3 106.9 378.3 108 380.3 108.4 382.8 107.1 387.1 100.7 397.8 99.6 401.8 99.4 405.8 99.1 405.8Z"/>
<path fill="#BE1660" d="M93.1 235 91.6 235.2 90.1 234.7 88.8 233.3 88.3 231.8 88.7 228.3 89.6 227 91.1 226.1 93.6 226.5 94.8 227.8 95.5 229.3 95.1 232.8 93.1 235ZM102.6 245 102.1 245.1 101.4 244.3 101.4 243.3 102.1 242.8 103 243.8 102.6 245ZM92.6 269.3 91.1 269.3 89.6 268.5 88.6 267 88.2 265.3 88.4 263.3 89.1 261.8 90.1 260.8 91.6 260.2 93.1 260.5 94.3 261.3 95.6 264.3 94.7 267.8 92.6 269.3ZM102.1 279.3 101.3 278.3 101.5 277.3 102.1 277 102.7 277.3 103 278.3 102.1 279.3ZM93.1 303.4 91.6 303.6 90.1 303.1 88.9 301.8 88.3 300.3 88.6 296.8 89.6 295.4 91.1 294.5 93.6 294.9 94.9 296.3 95.5 297.8 95.1 301.3 93.1 303.4ZM102.6 313.4 102.1 313.5 101.4 312.8 101.4 311.8 102.1 311.2 103 312.3 102.6 313.4ZM92.1 337.8 90.6 337.6 89.5 336.8 88.2 333.8 88.4 331.8 89 330.3 90.1 329.2 91.6 328.6 93.1 328.9 94.4 329.8 95.6 332.8 95.3 334.8 94.6 336.3 93.6 337.3 92.1 337.8ZM102.6 347.6 102.1 347.7 101.4 346.8 101.5 345.8 102.1 345.4 103 346.3 102.6 347.6ZM92.6 371.9 91.1 371.9 89.6 371.1 88.2 368.3 88.8 364.8 90.1 363.4 91.6 362.8 93.1 363.1 94.2 363.8 95.6 366.8 94.8 370.3 92.6 371.9ZM102.6 381.8 102.1 381.9 101.4 381.3 101.4 380.3 102.1 379.6 102.9 380.3 102.6 381.8ZM93.1 405.8 90.1 405.7 88.8 404.3 88.3 402.8 88.7 399.3 89.6 398 91.1 397.1 93.6 397.5 94.8 398.8 95.5 400.3 95.1 403.8 94.1 405.3 93.1 405.8Z"/>
<path fill="#9D1A50" d="M92.1 231.6 91.1 230.8 91.6 229.7 92.6 230.3 92.1 231.6ZM92.1 265.8 91.2 265.3 91.6 263.9 92.6 264.4 92.6 265.3 92.1 265.8ZM92.1 300 91.1 299.3 91.6 298.1 92.7 298.8 92.1 300ZM92.1 334.2 91.1 333.5 91.6 332.3 92.6 332.8 92.1 334.2ZM92.1 368.4 91.1 367.8 91.6 366.5 92.1 366.5 92.7 367.3 92.1 368.4ZM92.1 402.6 91.1 401.8 91.6 400.7 92.6 401.3 92.1 402.6Z"/>
<rect x="28.6" y="224.3" width="88.4" height="181.5" fill="none" stroke="#b0a69c" stroke-width=".9"/>
<path d="M28.6 234.4h1.7M117 234.4h-1.7M28.6 244.5h1.7M117 244.5h-1.7M28.6 254.6h1.7M117 254.6h-1.7M28.6 264.6h1.7M117 264.6h-1.7M28.6 274.7h1.7M117 274.7h-1.7M28.6 284.8h1.7M117 284.8h-1.7M28.6 294.9h1.7M117 294.9h-1.7M28.6 305h1.7M117 305h-1.7M28.6 315.1h1.7M117 315.1h-1.7M28.6 325.1h1.7M117 325.1h-1.7M28.6 335.2h1.7M117 335.2h-1.7M28.6 345.3h1.7M117 345.3h-1.7M28.6 355.4h1.7M117 355.4h-1.7M28.6 365.5h1.7M117 365.5h-1.7M28.6 375.6h1.7M117 375.6h-1.7M28.6 385.6h1.7M117 385.6h-1.7M28.6 395.7h1.7M117 395.7h-1.7M39.7 224.3v1.7M39.7 405.8v-1.7M50.7 224.3v1.7M50.7 405.8v-1.7M61.8 224.3v1.7M61.8 405.8v-1.7M72.8 224.3v1.7M72.8 405.8v-1.7M83.8 224.3v1.7M83.8 405.8v-1.7M94.9 224.3v1.7M94.9 405.8v-1.7M106 224.3v1.7M106 405.8v-1.7" stroke="#4a4a4a" stroke-width=".75" fill="none"/>
<rect x="127.8" y="224.3" width="88.4" height="181.5" fill="#176AA6"/>
<path fill="#1E7CC4" d="M216.3 405.8 127.8 405.8 127.8 224.3 216.3 224.3 216.3 405.8Z"/>
<path fill="#2A8DD2" d="M216.3 405.8 127.8 405.8 127.8 224.3 216.3 224.3 216.3 405.8Z"/>
<path fill="#3C9CDA" d="M216.3 405.8 127.8 405.8 127.8 224.3 216.3 224.3 216.3 405.8Z"/>
<path fill="#7CC4EC" d="M216.3 405.8 127.8 405.8 127.8 224.3 216.3 224.3 216.3 405.8Z"/>
<path fill="#A8DAF3" d="M216.3 405.8 127.8 405.8 127.8 224.3 216.3 224.3 216.3 405.8Z"/>
<path fill="#DDF0FA" d="M216.3 405.8 153.3 405.8 150.8 403.5 145.3 403.6 144.2 404.3 143.9 405.8 127.8 405.8 127.8 224.3 216.3 224.3 216.3 405.8ZM158.8 229.8 158.8 228.3 158.3 228.1 157.9 229.3 158.3 230 158.8 229.8ZM151.5 246.8 153.4 244.8 154.6 241.8 154.8 238.8 153.9 235.8 152.5 233.8 150.8 232.5 144.9 232.8 144 233.8 143.9 235.3 145.8 247.1 150.8 247.2 151.5 246.8ZM158.9 263.8 158.8 262.4 158.3 262.3 158 263.8 158.3 264.2 158.9 263.8ZM151 281.3 153.2 279.3 154.4 276.8 154.8 273.3 154.3 270.8 152.8 268.3 150.8 266.7 145.3 266.8 144 267.8 143.9 269.3 145.8 281.3 151 281.3ZM158.7 298.3 158.9 296.8 158.3 296.5 157.9 297.8 158.7 298.3ZM151.3 315.3 153.3 313.3 154.6 310.3 154.8 307.3 154 304.3 152.6 302.3 150.8 300.9 144.8 301.2 143.9 302.3 143.9 303.8 145.8 315.5 150.8 315.6 151.3 315.3ZM158.9 332.3 158.8 330.8 158.3 330.7 158.1 332.3 158.9 332.3ZM150.8 349.8 153.1 347.8 154.4 345.3 154.8 341.7 154.1 338.8 152.9 336.8 150.8 335.1 145.1 335.3 144 336.3 143.9 337.8 145.8 349.7 150.8 349.8ZM158.3 366.8 158.8 366.6 159 365.8 158.8 365 158.3 364.9 157.9 365.8 158.3 366.8ZM151.2 383.8 153.3 381.8 154.5 379.3 154.8 375.8 154 372.8 152.7 370.8 150.8 369.3 144.8 369.6 144.1 370.3 143.9 371.8 145.8 383.9 151.2 383.8ZM158.8 400.8 158.8 399.3 158.3 399.1 157.9 400.3 158.3 401 158.8 400.8Z"/>
<path fill="#FAD2E2" d="M141.3 405.8 127.8 405.8 127.8 224.3 144.3 224.3 143.8 224.8 141.8 231.5 141.6 233.8 144.3 247.3 145.2 255.8 144.8 257.8 143.8 259 141.5 267.8 144.3 281.3 145.2 289.8 144.9 291.8 143.8 293.2 141.5 301.8 144.4 315.8 145.2 323.8 145 325.8 143.8 327.4 141.8 334.1 141.6 336.3 144.3 349.8 145.2 358.3 144.8 360.3 143.8 361.6 141.5 370.3 144.4 384.3 145.2 392.3 144.9 394.3 143.8 395.8 141.8 402.5 141.7 405.8 141.3 405.8ZM216.3 405.8 158.9 405.8 160.8 401.7 163.8 402.7 164.9 401.3 165.3 399.8 165.1 398.3 163.8 396.6 160.8 397.3 157.8 390.8 156.7 385.8 157.4 376.8 159.2 370.8 160.8 367.5 163.8 368.5 165.1 366.8 165.3 365.3 164.9 363.8 163.8 362.3 160.8 363.1 157.9 356.8 156.7 351.8 157.2 343.3 159.1 336.8 160.8 333.3 163.8 334.3 165 332.8 165.3 331.3 165 329.8 163.8 328.2 160.8 328.9 157.9 322.8 156.7 317.8 157.2 309.3 159 302.8 160.8 299.1 163.8 300.1 165.3 297.3 165.1 295.8 163.8 294 160.8 294.7 157.8 288.3 156.7 283.8 157 276.3 158.5 269.8 160.8 264.9 163.8 265.9 165 264.3 165.3 262.8 165 261.3 163.8 259.7 160.8 260.5 157.9 254.3 156.8 250.4 157 242.3 158.4 235.8 160.8 230.7 163.8 231.7 164.9 230.3 165.3 228.8 165.1 227.3 163.8 225.6 160.8 226.3 159.8 224.3 216.3 224.3 216.3 405.8Z"/>
<path fill="#F6AAC6" d="M129.8 405.8 127.8 405.8 127.8 224.3 142.7 224.3 140.3 230.3 136.8 230.3 135.3 229.9 132.8 227.5 130.8 227.8 130.5 229.3 130.2 233.8 130.8 238.6 132.8 238.9 134.8 236.7 136.8 236.1 140.3 236.1 142.5 242.8 143.4 251.3 142.8 258.3 140.3 264.5 136.8 264.5 134.8 263.9 132.8 261.7 130.8 262 130.2 267.3 130.8 272.8 132.8 273.1 134.8 270.9 136.8 270.3 140.3 270.3 142.6 277.3 143.4 285.8 142.7 292.8 140.3 298.7 136.8 298.7 134.8 298.1 132.8 295.9 130.8 296.2 130.2 301.8 130.8 307 132.8 307.3 134.8 305.1 136.8 304.5 140.3 304.5 142.1 309.3 142.9 313.3 143.4 318.8 143.2 323.8 142.3 328.3 140.3 332.9 136.8 332.9 134.8 332.3 132.8 330.1 130.8 330.4 130.2 335.8 130.8 341.2 132.8 341.5 134.8 339.3 136.8 338.7 140.3 338.7 142 343.3 142.9 347.3 143.3 357.3 142.4 362.3 140.3 367.1 136.8 367.1 134.8 366.5 132.8 364.3 130.8 364.6 130.2 370.3 130.8 375.4 132.8 375.7 134.8 373.5 136.8 372.9 140.3 372.9 142.8 380.8 143.3 390.8 142.4 396.3 140.3 401.3 136.8 401.3 134.8 400.7 132.8 398.5 130.8 398.8 130.2 405.8 129.8 405.8ZM216.3 405.8 165 405.8 167.8 403.8 171.4 403.3 171.8 402.8 171.7 401.8 167.8 395.4 163.8 392.8 160.8 392 159.5 388.8 158.7 384.3 158.7 380.8 159.4 376.3 160.8 372.7 163.8 372.2 167.8 369.6 170.8 369.3 171.8 368.6 171 366.3 167.8 361.2 163.8 358.6 160.8 357.8 159.3 353.8 158.7 348.8 159.2 342.8 160.8 338.5 163.8 338 167.8 335.4 170.8 335.1 171.8 334.4 171.1 332.3 167.8 327.1 163.8 324.4 160.8 323.6 159.3 319.8 158.7 314.8 159.2 308.8 160.8 304.3 163.8 303.8 167.8 301.2 171.1 300.8 171.8 300.2 171.2 298.3 167.8 292.8 163.8 290.2 160.8 289.4 159.4 285.8 158.7 280.8 159.1 274.8 160.8 270.1 163.8 269.6 167.8 267 170.8 266.7 171.8 266 171.1 263.8 167.8 258.6 163.8 256 160.8 255.2 159.4 251.8 158.8 247.8 159 241.3 160.8 235.9 163.8 235.4 167.8 232.8 170.8 232.5 171.8 231.8 170.9 229.3 167.6 224.3 216.3 224.3 216.3 405.8Z"/>
<path fill="#F07AA5" d="M127.8 405.8 127.8 224.3 129.5 224.3 128.3 230.3 128.1 233.8 130.2 245.8 130.4 251.3 128.1 267.8 130.1 279.8 130.4 285.3 128.1 301.8 130.1 313.8 130.5 319.3 128.1 335.8 130.2 348.3 130.5 353.3 128.1 370.3 130.1 382.3 130.5 387.3 130.1 392.3 128.2 401.8 128.1 405.8 127.8 405.8ZM139.8 226.9 136.8 227 134.1 224.3 141.4 224.3 140.3 226.7 139.8 226.9ZM216.3 405.8 173 405.8 173.3 400.8 171.8 396.4 167.8 392 161.8 388.8 160.8 387.9 160.5 386.8 160 381.8 160.8 376.8 167.8 373.1 171.8 374.5 172.8 372.3 173.4 369.3 173.1 365.3 171.8 362.2 167.8 357.8 160.8 353.7 160 348.3 160.8 342.6 167.8 338.9 171.8 340.3 172.8 338.2 173.3 335.3 173.1 331.3 171.8 328 167.8 323.6 160.8 319.5 160 314.3 160.9 308.3 167.8 304.7 171.8 306.1 173.3 301.8 173.1 297.3 171.8 293.8 167.8 289.4 160.8 285.3 160 280.3 160.8 274.2 167.8 270.5 171.8 271.9 173.2 268.3 173.3 263.8 171.9 259.8 167.8 255.2 160.8 251.1 160 246.8 160.2 242.3 160.8 240 161.3 239.5 167.8 236.3 171.8 237.7 172.3 236.9 173.3 233.3 173.3 229.8 172.3 226.3 170.8 224.3 216.3 224.3 216.3 405.8ZM138.8 261.3 136.8 261.2 134.6 259.3 132.2 253.8 131.7 250.8 132.1 247.3 134 242.3 136.2 239.8 138.3 239.2 140.3 239.7 140.8 240.9 141.9 244.8 142.4 250.3 141.8 257.5 140.3 260.9 138.8 261.3ZM139.3 295.4 136.8 295.4 134.8 293.8 133.3 290.9 131.7 285.3 132 281.8 134.1 276.3 136.3 274 138.3 273.4 140.3 273.9 140.7 274.8 141.8 278.4 142.4 283.8 141.8 291.7 140.3 295.1 139.3 295.4ZM140.3 329.3 138.3 329.8 136.8 329.6 134.8 328 133.4 325.3 131.7 319.8 132.1 315.8 133.9 310.8 136.1 308.3 138.3 307.6 140.3 308.1 141.7 312.3 142.3 315.8 142.2 323.8 141.8 325.9 140.3 329.3ZM139.3 363.8 136.8 363.8 134.8 362.2 132.2 356.3 131.7 353.3 132.1 349.8 134 344.8 136.3 342.4 138.3 341.8 140.3 342.3 140.7 343.3 141.8 346.8 142.4 352.3 141.8 360.1 140.3 363.5 139.3 363.8ZM139.8 397.9 136.8 398 134.8 396.4 133.3 393.5 131.7 387.8 132 384.3 134.2 378.8 136.3 376.6 138.3 376 140.3 376.5 141.8 381 142.4 385.3 141.9 393.8 140.5 397.3 139.8 397.9Z"/>
<path fill="#EC1280" d="M216.3 405.8 174.7 405.8 174.7 399.8 173.3 395.2 167.8 388.9 163.8 386.5 162.2 383.8 162.2 380.8 164.1 378.3 167.8 376.2 171.8 377.7 172.3 377.2 174 374.3 174.9 369.8 174.6 364.8 173.2 360.8 167.8 354.7 163.8 352.3 162.4 350.3 162 348.3 162.4 346.3 163.3 344.8 167.8 342 172 343.3 173.9 340.3 174.8 336.3 174.7 330.8 173.3 326.8 167.8 320.5 163.5 317.8 162.5 316.3 162 314.3 162.3 312.3 163.3 310.6 167.8 307.8 171.8 309.3 173.6 306.8 174.7 302.8 174.8 297.3 173.3 292.6 167.8 286.3 163.7 283.8 162.4 281.8 162 279.8 162.4 277.8 163.4 276.3 167.8 273.6 171.8 275.1 173.5 272.8 174.5 269.8 174.8 263.8 173.5 258.8 168 252.3 163.4 249.3 162.4 247.8 162 245.8 162.6 243.3 164.5 241.3 167.8 239.4 171.8 240.9 173.4 238.8 174.6 235.3 174.9 231.3 174.5 227.3 173.4 224.3 209.4 224.3 210.4 227.8 211.8 229.3 212.8 229.5 213.8 229.2 214.8 228 215 224.3 216.3 224.3 216.3 405.8ZM139.3 257.9 138.3 258.3 136.7 257.8 135.4 255.3 134.8 251.8 134.9 247.8 135.6 244.8 136.8 242.7 138.3 242.3 140.3 243.3 141.2 248.8 140.9 255.3 140.3 257.3 139.3 257.9ZM127.8 253.8 127.8 246.8 127.8 253.8ZM214 263.3 215.1 261.3 215 258.3 213.8 255.7 211.8 254.5 209.8 256.4 209.5 259.8 211.3 263.1 212.8 263.7 214 263.3ZM138.8 292.4 136.8 292.1 136.2 291.3 135.2 288.8 134.7 285.3 134.9 281.8 135.7 278.8 136.8 276.9 138.3 276.5 140.3 277.5 141.3 284.3 140.5 290.8 140.3 291.5 138.8 292.4ZM127.8 288 127.8 281 127.8 288ZM213.3 297.8 214.9 296.3 215 292.8 213.8 289.9 211.8 288.7 209.8 290.6 209.4 293.8 210.8 296.8 211.8 297.7 213.3 297.8ZM139.3 326.3 138.3 326.7 136.8 326.3 135.4 323.8 134.8 320.3 134.9 316.3 135.5 313.3 136.8 311.1 138.3 310.7 140.3 311.7 141.2 317.3 140.9 323.8 140.3 325.7 139.3 326.3ZM127.8 322.2 127.8 315.2 127.8 322.2ZM213.8 331.8 215.1 329.8 215 326.8 213.8 324.1 211.8 322.9 209.8 324.8 209.5 328.3 211.3 331.5 212.3 332 213.8 331.8ZM138.3 360.9 136.8 360.5 135.8 358.8 135 356.3 134.7 352.8 135 349.3 135.8 346.9 136.8 345.3 138.3 344.9 140.3 345.9 141.3 353.3 140.3 359.9 138.3 360.9ZM127.8 356.4 127.8 349.4 127.8 356.4ZM214.1 365.8 215.1 363.8 215 360.8 213.8 358.3 211.8 357.1 210.7 357.8 209.7 359.3 209.6 362.8 210.5 364.8 211.8 366.1 212.8 366.3 214.1 365.8ZM138.8 395 136.8 394.7 136.2 393.8 135.2 391.3 134.7 387.8 134.9 384.3 135.7 381.3 136.8 379.5 138.3 379.1 140.3 380.1 141.3 386.8 140.6 393.3 140.3 394.1 138.8 395ZM127.8 390.6 127.8 383.6 127.8 390.6ZM213.6 400.3 215 398.3 215 395.3 213.8 392.5 211.8 391.3 210.8 391.9 209.8 393.3 209.5 396.8 211.3 399.9 212.3 400.4 213.6 400.3Z"/>
<path fill="#DC1272" d="M213.3 405.8 177.1 405.8 176.2 397.8 175.2 393.8 174.1 391.8 171.8 389.6 167.8 384.3 167.2 382.8 167.8 380.8 171.8 381.3 173.3 380.1 174.8 378 177.1 372.8 176.4 365.3 175.3 359.8 173.8 357.3 171.8 355.4 167.8 350.1 167.2 348.3 167.8 346.6 171.8 347.1 173.3 345.9 174.8 343.8 175.8 341.1 176.8 339.8 177.1 338.3 176.2 329.8 175.2 325.3 174 323.3 171.8 321.2 167.7 315.8 167.2 314.3 167.8 312.4 171.8 312.9 173.3 311.7 174.8 309.6 177.1 304.3 176.4 296.8 175.2 291.3 174.2 289.3 171.8 287 167.8 281.7 167.2 279.8 167.8 278.2 171.8 278.7 172.9 277.8 174.6 275.8 177 270.8 176.7 264.8 175.3 257.2 173.9 254.8 171.8 252.8 167.7 247.3 167.2 245.8 167.8 244 171.8 244.5 172.8 243.7 174.5 241.8 175.8 238.5 176.8 237.2 177 233.3 175.7 224.3 206.7 224.3 207.9 228.3 213.5 234.8 216.3 241.8 216.3 255.4 214.3 252.2 211.8 250.8 207.8 252.4 206.6 253.8 206.3 255.3 207.8 262.4 209.8 265.2 213.4 268.8 216.3 276 216.3 289.6 214.3 286.4 211.8 285 207.6 286.8 206.5 288.3 206.3 289.8 207.8 296.6 209.7 299.3 213.5 303.3 216.3 310.2 216.3 323.8 214.3 320.6 211.8 319.2 207.8 320.8 206.6 322.3 206.3 323.8 207.8 330.8 209.8 333.6 213.4 337.3 216.3 344.4 216.3 358 214.3 354.8 211.8 353.4 207.8 355 206.7 356.3 206.3 357.8 207.8 365 209.4 367.3 213.6 371.8 216.3 378.6 216.3 392.2 214.3 389 211.8 387.6 207.8 389.2 206.8 390.3 206.3 391.8 206.5 394.3 207.8 399.2 213.3 405.8Z"/>
<path fill="#BE1660" d="M205.3 247.3 204.8 247.4 197.8 243.5 182.8 234.1 179.8 232.9 178.5 229.3 177.5 224.3 202.7 224.3 205.7 228.3 207.8 234 209.8 237.8 210.4 240.3 210.3 242.3 209.7 243.8 205.3 247.3ZM205.3 281.5 204.8 281.6 197.8 277.7 182.8 268.3 179.8 267.1 178.2 262.3 176.9 253.8 177 249.8 178.2 247.8 182.3 246.1 183.3 246.2 196.8 254.2 201.8 257.7 204.8 260.9 209.7 271.8 210.5 275.3 209.5 278.3 205.3 281.5ZM204.8 315.8 182.8 302.5 179.8 301.3 178.2 296.8 177.1 289.3 176.9 284.8 177.9 282.3 181.8 280.5 183.3 280.4 196.8 288.4 201.8 291.9 204.8 295.1 209.7 305.8 210.5 309.3 210.2 311.3 209.3 312.8 206.8 314.9 204.8 315.8ZM205.3 349.9 204.8 350 197.8 346.1 182.8 336.7 179.8 335.5 178.2 330.8 177 322.8 177 318.3 178.1 316.3 181.8 314.7 183.3 314.6 196.8 322.6 201.8 326.1 204.8 329.3 209.8 340.3 210.5 343.3 210.2 345.3 209.4 346.8 205.3 349.9ZM205.8 383.9 204.8 384.2 182.8 370.9 179.8 369.7 178.3 365.3 177.1 357.8 176.9 352.8 177.8 350.8 181.3 349.1 183.3 348.8 196.8 356.8 201.8 360.3 204.3 362.9 205.8 365.3 207.8 370.8 209.7 374.3 210.5 377.3 210.3 379.3 209.6 380.8 205.8 383.9ZM207.8 405.8 183.8 405.8 179.8 403.9 178.3 399.8 177.2 393.3 176.8 387.8 177.5 385.3 178.8 384.3 182.8 382.8 196.8 391 201.8 394.5 204.8 397.7 208.3 405.8 207.8 405.8Z"/>
<path fill="#9D1A50" d="M204.8 242.7 199.8 240.8 182 229.8 179.8 227.5 179.2 224.3 197.4 224.3 199.8 225.9 204.8 231.3 205.6 233.3 206.3 238.8 205.8 241.3 204.8 242.7ZM204.8 276.9 199.8 275 180.6 262.8 179.5 260.3 179.2 255.3 179.8 252.5 181.3 250.8 182.8 249.7 187.8 252.4 199.8 260.1 202.1 262.3 204.8 265.5 206 269.3 206.2 273.8 204.8 276.9ZM204.8 311.1 199.8 309.2 182.3 298.4 180.4 296.8 179.4 294.3 179.1 289.8 179.7 286.8 181 285.3 182.8 283.9 183.3 284.1 194.6 290.8 199.8 294.3 201.9 296.3 204.8 299.7 206 303.3 206.2 307.8 205.7 309.8 204.8 311.1ZM204.8 345.3 199.8 343.4 182.5 332.8 180.3 330.9 179.4 328.3 179.2 323.8 179.8 320.9 181.2 319.3 182.8 318.1 187.8 320.8 199.8 328.5 202.2 330.8 204.8 333.9 206 337.8 206.2 342.3 204.8 345.3ZM204.8 379.5 199.8 377.6 182.3 366.8 180.5 365.3 179.5 362.8 179.1 358.3 179.7 355.3 180.8 353.8 182.8 352.3 183.3 352.5 194.3 359 199.8 362.7 201.8 364.6 204.8 368.1 206 371.8 206.2 376.3 205.7 378.3 204.8 379.5ZM205.8 405.8 190 405.8 182.7 401.3 180.8 399.8 179.7 398.3 179.1 393.3 179.8 389.3 182.8 386.5 194.3 393.2 199.8 396.9 201.8 398.8 204.8 402.3 205.8 405.8Z"/>
<rect x="127.8" y="224.3" width="88.4" height="181.5" fill="none" stroke="#b0a69c" stroke-width=".9"/>
<path d="M127.8 234.4h1.7M216.2 234.4h-1.7M127.8 244.5h1.7M216.2 244.5h-1.7M127.8 254.6h1.7M216.2 254.6h-1.7M127.8 264.6h1.7M216.2 264.6h-1.7M127.8 274.7h1.7M216.2 274.7h-1.7M127.8 284.8h1.7M216.2 284.8h-1.7M127.8 294.9h1.7M216.2 294.9h-1.7M127.8 305h1.7M216.2 305h-1.7M127.8 315.1h1.7M216.2 315.1h-1.7M127.8 325.1h1.7M216.2 325.1h-1.7M127.8 335.2h1.7M216.2 335.2h-1.7M127.8 345.3h1.7M216.2 345.3h-1.7M127.8 355.4h1.7M216.2 355.4h-1.7M127.8 365.5h1.7M216.2 365.5h-1.7M127.8 375.6h1.7M216.2 375.6h-1.7M127.8 385.6h1.7M216.2 385.6h-1.7M127.8 395.7h1.7M216.2 395.7h-1.7M138.8 224.3v1.7M138.8 405.8v-1.7M149.9 224.3v1.7M149.9 405.8v-1.7M160.9 224.3v1.7M160.9 405.8v-1.7M172 224.3v1.7M172 405.8v-1.7M183.1 224.3v1.7M183.1 405.8v-1.7M194.1 224.3v1.7M194.1 405.8v-1.7M205.2 224.3v1.7M205.2 405.8v-1.7" stroke="#4a4a4a" stroke-width=".75" fill="none"/>
<rect x="227" y="224.3" width="88.4" height="181.5" fill="#176AA6"/>
<path fill="#1E7CC4" d="M315.5 405.8 233.2 405.8 231 401.6 228.8 403.3 228.2 405.8 227 405.8 227 224.3 246.3 224.3 249 226.6 252 228.1 257 231.9 263 233.3 264.9 230.8 265.3 228.8 264.6 227.8 259.8 224.3 315.5 224.3 315.5 405.8ZM263.2 267.3 265.2 264.3 264.9 262.3 261.5 260 257 255.5 254 253.5 249 247.7 242.4 241.8 233.6 235.3 231 230.6 229.3 231.8 228.3 233.3 228.4 235.3 232.3 240.8 235 249.1 238 251.2 242 255.4 249 260.8 252 262.3 257 266.1 263.2 267.3ZM263.4 301.3 265.2 298.3 265.3 297.3 264.7 296.3 261.5 294.2 257 289.7 254 287.7 249 281.9 242.1 275.8 234 269.8 231 264.8 229.5 265.8 228.4 267.3 228.3 269.3 229.3 271.3 232.2 274.8 235 283.3 238 285.4 242 289.6 249 295 252 296.5 257 300.3 263 301.7 263.4 301.3ZM263.1 335.8 265.1 332.8 264.9 330.8 261 328 257 323.9 254 321.9 249 316.1 242 309.9 233.7 303.8 231 299 229.2 300.3 228.3 301.8 228.4 303.8 232.3 309.3 235 317.5 238 319.6 242 323.8 249 329.2 252 330.7 257 334.5 263.1 335.8ZM263.3 369.8 265.2 366.8 265.3 365.8 264.8 364.8 261.5 362.6 257 358.1 254 356.1 249 350.3 242.3 344.3 234 338.2 231 333.2 229.4 334.3 228.3 335.8 228.3 337.8 229.4 339.8 232.2 343.3 235 351.7 238 353.9 242 358 249 363.4 252 364.9 257 368.7 263 370.1 263.3 369.8ZM263.5 403.8 265.3 400.8 265.3 399.8 264.6 398.8 261.5 396.8 257 392.3 254 390.3 249 384.5 242 378.3 233.9 372.3 231 367.4 229.1 368.8 228.3 370.3 228.4 372.3 232.3 377.8 235 385.9 238 388 242 392.2 249 397.6 252 399.1 257 402.9 263 404.3 263.5 403.8Z"/>
<path fill="#2A8DD2" d="M314.5 405.8 265.7 405.8 268.5 403.3 269.5 400.8 269 397.8 267.1 394.8 263 394.1 261.4 392.8 255.4 387.3 244.5 376.1 238 371.1 235 369.5 231 363.8 227 364.9 227 342.1 231 345.4 235 355.2 246 365.5 254.5 371.2 263 373.9 268.3 369.3 269.5 366.3 268.9 363.3 267 360.4 263 359.9 261.5 358.7 255.1 352.8 250.7 347.8 244.5 341.9 238 336.9 235 335.3 231 329.6 227 330.7 227 307.9 231 311.2 235 321 240.5 326.5 246 331.3 254.5 337 263 339.7 268.2 335.3 269.1 333.8 269.5 331.8 268.8 328.8 267 326.2 263 325.7 261.3 324.3 255.3 318.8 244.5 307.7 238.2 302.8 235 301.1 231 295.4 227 296.5 227 273.7 231 277 235 286.8 246 297.1 254.5 302.8 263 305.5 268.4 300.8 269.5 297.8 268.9 294.8 267 292.1 263 291.5 261 289.9 244.5 273.5 238 268.5 235 266.9 231 261.2 227 262.3 227 239.5 231 242.8 235 252.6 240.5 258.1 246 262.9 254.5 268.6 263 271.3 268.3 266.8 269.5 263.8 268.9 260.8 267 257.8 263 257.3 261.1 255.8 244.5 239.3 238 234.3 235 232.7 231 227 227 228.1 227 224.3 240.9 224.3 246.5 229.1 254 234.1 257 235.5 263 237.1 268 232.9 269.2 230.8 269.3 227.8 267.6 224.3 315.5 224.3 315.5 228.1 314.5 229.3 314.2 231.3 315.5 239.5 315.5 262.3 314.6 263.3 314.2 265.3 315.5 273.7 315.5 296.5 314.5 297.8 314.2 299.8 315.5 307.9 315.5 330.7 314.6 331.8 314.2 333.8 315.5 342.1 315.5 364.9 314.5 366.3 314.2 368.3 315.5 376.3 315.5 399.1 314.3 401.3 314.5 405.8ZM255 405.8 238.7 405.8 235 403.7 231 398 227 399.1 227 376.3 231 379.6 235 389.4 240.5 394.9 246 399.7 255.3 405.8 255 405.8Z"/>
<path fill="#3C9CDA" d="M228 224.4 227 224.6 228 224.4ZM235.5 228.1 235 228.3 233.2 224.3 235.8 224.3 236.4 226.8 235.5 228.1ZM313 405.8 270.4 405.8 271.5 404.3 272.2 401.3 271.9 398.3 270.9 395.8 267 391.7 263 391 261.2 389.3 256.2 383.8 253.8 378.8 254 377.2 256 376.2 263 377 267 373.5 271 371.1 272.2 367.3 271.8 363.8 270 360.3 267 357.5 263 356.8 260.9 354.8 256 349.3 254.4 346.3 253.7 343.8 254.5 342.5 257 341.9 263 342.8 267 339.3 271 336.9 272.1 333.8 271.9 329.8 270.1 326.3 267 323.3 263 322.6 261.1 320.8 256.1 315.3 254.4 312.3 253.7 309.8 254.5 308.3 257 307.7 263 308.6 267 305.1 270.9 302.8 272.1 299.8 272 295.8 270.3 292.3 267 289.1 263 288.4 261.3 286.8 256.3 281.3 254.5 278.3 253.7 275.8 254.2 274.3 256.5 273.6 263 274.4 267 270.9 270.7 268.8 271.8 266.8 272.1 262.3 270.4 258.3 267 254.9 263 254.2 261 252.3 256.1 246.8 254.4 243.8 253.7 241.3 254.5 239.9 257 239.3 263 240.2 267 236.7 271 234.3 272 231.8 272.2 229.3 271.8 226.8 270.6 224.3 311.1 224.3 310.5 225.8 310.7 227.8 313 233.9 315.5 243.1 315.5 258.8 313 257.5 311 258.7 310.5 260.3 315.5 277.3 315.5 293 313 291.7 311 292.8 310.5 294.3 310.9 296.8 313 302.3 315.5 311.5 315.5 327.2 313 325.9 311 327.1 310.5 328.8 315.5 345.7 315.5 361.4 313 360.1 311 361.3 310.5 362.8 315.5 379.9 315.5 395.6 313 394.3 311.1 395.3 310.5 396.8 310.8 399.3 313 405.8ZM315.5 224.6 314.8 224.3 315.5 224.6ZM235 262.5 233.7 259.3 232.5 258.1 231 257.9 227 258.8 227 243.1 231 246.1 233.6 255.3 235.2 257.3 236.3 259.8 236.3 261.3 235 262.5ZM235.5 296.5 235 296.7 233.6 293.3 232.5 292.3 231 292.1 227 293 227 277.3 231 280.3 233.8 289.8 235.1 291.3 236.2 293.8 236.3 295.3 235.5 296.5ZM235 330.9 233.5 327.3 232.5 326.5 231 326.3 227 327.2 227 311.5 231 314.5 233.7 323.8 235.2 325.8 236.3 328.3 236.3 329.8 235 330.9ZM235.5 364.9 235 365.1 233.7 361.8 232.5 360.7 231 360.5 227 361.4 227 345.7 231 348.7 233.8 358.3 235.1 359.8 236.2 362.3 236.3 363.8 235.5 364.9ZM235.5 399.1 235 399.3 233.6 395.8 232.5 394.9 231 394.7 227 395.6 227 379.9 231 382.9 233.7 392.3 235 393.8 236.2 396.3 236.4 397.8 235.5 399.1Z"/>
<path fill="#7CC4EC" d="M311 405.8 273.4 405.8 274.3 403.3 274.6 400.3 274.1 397.3 273 394.8 271.2 392.3 269 390.3 263 387.1 261.4 383.8 261.7 381.8 267 376.3 271 375 271.7 374.3 273.8 370.8 274.6 367.3 274.2 363.3 272.2 359.3 268 355.3 263 352.9 261.8 350.8 261.3 348.8 262 347.3 267 342.1 271 340.8 271.5 340.3 273.7 336.8 274.5 333.3 274.2 329.3 272.3 325.3 268 321.1 263 318.8 261.3 314.8 261.8 313.3 267 307.9 271 306.6 271.5 306.1 273.5 303 274.5 299.8 274.3 295.3 272.5 291.3 268.5 287.3 263 284.5 261.3 280.8 261.7 279.3 267 273.7 271 272.4 271.5 271.9 273.3 269.3 274.3 266.3 274.4 261.8 272.6 257.3 268.5 253.1 263 250.4 261.8 248.3 261.3 246.3 261.9 244.8 266.7 239.8 271 238.2 273.1 235.3 274.2 232.8 274.6 229.8 274.2 226.8 273.3 224.3 307.1 224.3 307.7 228.3 313 238.4 315.5 247 315.5 254.9 313 253.1 309 252.8 307.6 255.8 307.1 258.8 307.8 262.8 313 272.6 315.5 281.2 315.5 289.1 313 287.3 309 287 307.7 289.8 307.1 292.8 307.7 296.8 313 306.8 315.5 315.4 315.5 323.3 313 321.5 309 321.2 307.6 324.3 307.1 326.8 307.9 331.3 313 341 315.5 349.6 315.5 357.5 313 355.7 309 355.4 307.7 358.3 307.1 360.8 307.8 365.3 313 375.2 315.5 383.8 315.5 391.7 313 389.9 309 389.6 307.3 393.8 307.1 396.3 307.5 398.8 311 405.8ZM227 254.9 227 247 229.4 249.8 230.2 251.8 229.5 253.3 227 254.9ZM227.5 288.8 227 289.1 227 281.2 229.3 283.8 230.2 285.8 229.7 287.3 227.5 288.8ZM227.5 323 227 323.3 227 315.4 229.2 317.8 230.1 319.8 229.5 321.7 227.5 323ZM227 357.5 227 349.6 229.4 352.3 230.2 354.3 229.6 355.8 227 357.5ZM227.5 391.4 227 391.7 227 383.8 229.2 386.3 230.1 388.3 229.8 389.8 227.5 391.4Z"/>
<path fill="#A8DAF3" d="M308.5 405.8 276.5 405.8 276.6 400.3 275 393.1 271 388.1 267 385 266.2 383.3 267 380.2 271 379 273.5 376.2 276.3 372.3 276.8 369.8 276.3 364.3 275 358.9 271 353.9 267 350.8 266.2 348.8 267 346 271 344.8 273.3 342.3 276.2 338.3 276.7 335.8 276.3 330.3 275 324.7 271 319.7 267 316.6 266.2 314.3 267 311.8 271 310.6 273 308.4 276.1 304.3 276.7 301.8 276.4 296.3 275 290.5 271 285.5 266.9 282.3 266.2 280.3 267 277.6 271 276.4 275.9 270.3 276.7 268.3 276.5 262.8 275 256.3 271 251.3 267 248.2 266.2 246.3 267 243.4 271 242.2 276.3 235.3 276.7 231.3 275.7 224.3 304.6 224.3 304.6 226.3 305.3 228.8 309.7 236.8 313 244.8 312.8 246.8 311.5 247.7 309 248.5 307 251.8 305.1 255.8 304.5 259.3 305.4 263.3 310.1 271.8 313 279.8 312.5 281.4 309 282.7 305.6 288.8 304.6 293.3 305.4 297.3 310 305.8 313 313.8 313 314.8 312.2 315.8 309 316.9 305.6 322.8 304.6 327.3 304.7 329.3 305.5 331.8 309.9 339.8 313 347.8 313 349 312.5 349.8 309 351.1 305.7 356.8 304.6 361.3 304.6 363.3 305.4 365.8 309.8 373.8 313 381.8 313 383.2 312.5 384 309 385.3 305.8 390.8 304.7 394.3 304.8 398.3 308.5 405.8Z"/>
<path fill="#DDF0FA" d="M305.5 405.8 280.9 405.8 279 402.3 276.2 390.3 274 384.3 274.1 382.3 275 380.2 279 379.8 280.8 376.8 281.5 374.3 281 371.8 279 368.1 276.4 356.8 273.9 349.3 275 346 279 345.6 280.9 342.3 281.5 339.8 280.9 337.3 279 333.9 276.3 322.3 273.9 315.3 275 311.7 279 311.4 280.8 308.3 281.5 305.8 281 303.3 279 299.7 276.2 287.8 273.9 281.3 275 277.6 279 277.2 280.7 274.3 281.4 271.8 281 269.3 279 265.6 276.3 253.8 273.9 247.3 274.1 245.3 275 243.3 279 243 280.6 240.3 281.4 237.8 281.1 235.3 279 231.3 277.4 224.3 301.6 224.3 300.4 227.3 300.5 228.8 305 233.4 307.5 237.8 308.4 240.8 307.8 245.3 301.2 259.3 300.4 262.3 301 263.8 305.5 268.3 307.9 272.8 308.5 275.8 307.7 279.8 305 285 300.4 296.3 300.8 297.8 305.7 302.8 307.8 306.8 308.5 309.8 307.8 313.8 305 319.2 300.4 330.3 300.7 331.8 303 333.8 305.8 337.3 307.7 340.8 308.5 343.8 307.9 347.8 305 353.4 300.4 364.8 300.9 366.3 305.5 370.9 307.6 374.8 308.5 377.8 307.8 382.3 305 387.6 300.4 398.8 300.8 400.3 305 404.4 305.9 405.8 305.5 405.8Z"/>
<path fill="#FAD2E2" d="M296 405.8 284.9 405.8 284.5 404.2 279.5 396.3 278.7 392.3 279 387.3 282 382.1 284.5 383.2 287 386 290 386.4 293 384.9 293.9 382.3 294.2 379.3 293.5 377.1 293 376.9 290 377.8 286.5 375.7 284.5 370 279.5 362 278.7 358.3 279 353.3 282 347.9 284.5 349 287 351.8 290 352.2 293 350.7 293.8 348.3 294.2 345.3 294 343.7 293.4 342.8 290 343.6 286.5 341.5 284.5 335.8 279.5 327.8 278.8 324.8 278.9 319.3 280 316.7 282 313.7 284.5 314.8 287 317.6 290 318 293 316.5 293.8 314.3 294.2 310.8 293.9 309.3 293 308.5 290 309.4 286.5 307.3 284.5 301.6 279.5 293.6 278.6 287.8 279.4 283.8 282 279.5 284.5 280.6 287.5 283.5 290.5 283.6 293 282.3 293.5 281.2 294.1 277.3 293.8 274.8 293 274.3 290 275.2 286.5 273.1 284.5 267.4 279.5 259.3 278.6 253.3 279.3 249.8 282 245.3 284.5 246.4 287 249.2 290 249.6 293 248.1 294 244.8 294 241.3 293 240.1 290 241 286.9 239.3 285.7 237.3 284.5 233.2 279.2 224.3 297.6 224.3 296.2 229.8 296.2 235.3 297 235.9 301 235 303 235.7 304.9 238.3 305.6 241.3 305.2 244.8 303 251.3 297 259.7 295.9 266.3 296 268.9 297 270.1 301 269.2 303.4 270.3 305 272.8 305.7 276.3 304.7 280.8 303 285.5 297 293.9 296 300.3 296 303.3 296.9 304.3 301 303.4 303.2 304.3 305 307 305.7 310.3 305.3 312.8 303.4 318.8 301 322.9 297.4 327.3 296.1 333.3 295.9 336.8 296.5 338.3 297 338.5 301 337.6 303 338.3 305 341.2 305.7 344.8 304.7 349.3 303 353.9 297 362.3 296.1 367.3 296 371.5 297 372.7 301 371.8 303 372.5 305 375.3 305.7 378.8 305.2 381.8 303 388.1 297 396.5 296 401.8 296 405.8Z"/>
<path fill="#F6AAC6" d="M290.5 238.1 290 238.3 287 236 284.5 227.4 282.8 224.3 295.2 224.3 293.5 234.8 292.6 236.3 290.5 238.1ZM290 272.5 287.5 270.7 286.6 269.3 284.5 261.6 282 256.6 282 252.1 284.5 251 287 252.5 293.4 251.8 294.6 249.8 297 241.9 299 239.9 301 239 303.1 241.3 303.3 243.8 302.9 246.3 301 250.4 296.3 254.8 294.9 259.8 293.4 269.3 292 271.1 290 272.5ZM290.5 306.5 290 306.7 288.7 305.8 286.7 303.8 284.5 295.8 282 290.8 282 286.3 284.5 285.2 287 286.7 293 286.3 294.5 284.3 297 276.1 299 274.1 301 273.2 303 275.3 303.3 277.8 302.9 280.3 301 284.6 296.4 288.8 294.9 294.3 293.5 303.2 292.5 304.8 290.5 306.5ZM290 340.9 287.5 339.1 286.6 337.8 284.5 330 282 325 282 320.5 284.5 319.4 287 320.9 293.2 320.3 294.6 318.3 297 310.3 299 308.3 301 307.4 302.2 308.3 303.1 309.8 303.3 312.3 302.8 314.8 301 318.8 297.4 321.8 296.3 323.3 294.9 328.3 293.5 337.4 292.3 339.3 290 340.9ZM290.5 374.9 290 375.1 288.8 374.3 286.8 372.3 284.5 364.2 282 359.2 282 354.7 284.5 353.6 287 355.1 293 354.7 294.5 352.7 297 344.5 299 342.5 301 341.6 303 343.8 303.3 346.3 302.9 348.8 301 353 296.4 357.3 294.8 362.8 293.5 371.6 292.9 372.8 290.5 374.9ZM293 405.8 286.5 405.8 284.5 398.4 282 393.4 282 388.9 284.5 387.8 287 389.3 293.1 388.8 294.6 386.8 297 378.7 299 376.7 301 375.8 303 377.9 303 382.7 301 387.2 297.3 390.3 296.2 391.8 294.8 397.3 293.7 404.8 293.5 405.8 293 405.8Z"/>
<path fill="#F07AA5" d="M290 234.9 287 230.8 286.7 224.3 292.4 224.3 292.2 230.3 291.2 233.3 290 234.9ZM290 269.1 287 265 286.6 260.3 287 257.7 290 255.7 292 257.3 292.6 260.3 291.8 265.8 290 269.1ZM290 303.3 287 299.2 286.6 294.3 287.1 291.8 290 289.9 292.1 291.8 292.6 294.8 291.9 299.8 290 303.3ZM290 337.5 287 333.4 286.6 328.8 287 326.1 290 324.1 292 325.8 292.6 328.8 292 333.8 290 337.5ZM290 371.7 287 367.6 286.6 362.8 287 360.3 290 358.3 292 360 292.6 363.3 291.9 368.3 290 371.7ZM290 405.8 287 401.8 286.6 396.8 287 394.5 290 392.5 292.1 394.3 292.6 397.3 291.9 402.3 290 405.8Z"/>
<rect x="227" y="224.3" width="88.4" height="181.5" fill="none" stroke="#b0a69c" stroke-width=".9"/>
<path d="M227 234.4h1.7M315.4 234.4h-1.7M227 244.5h1.7M315.4 244.5h-1.7M227 254.6h1.7M315.4 254.6h-1.7M227 264.6h1.7M315.4 264.6h-1.7M227 274.7h1.7M315.4 274.7h-1.7M227 284.8h1.7M315.4 284.8h-1.7M227 294.9h1.7M315.4 294.9h-1.7M227 305h1.7M315.4 305h-1.7M227 315.1h1.7M315.4 315.1h-1.7M227 325.1h1.7M315.4 325.1h-1.7M227 335.2h1.7M315.4 335.2h-1.7M227 345.3h1.7M315.4 345.3h-1.7M227 355.4h1.7M315.4 355.4h-1.7M227 365.5h1.7M315.4 365.5h-1.7M227 375.6h1.7M315.4 375.6h-1.7M227 385.6h1.7M315.4 385.6h-1.7M227 395.7h1.7M315.4 395.7h-1.7M238.1 224.3v1.7M238.1 405.8v-1.7M249.1 224.3v1.7M249.1 405.8v-1.7M260.1 224.3v1.7M260.1 405.8v-1.7M271.2 224.3v1.7M271.2 405.8v-1.7M282.2 224.3v1.7M282.2 405.8v-1.7M293.3 224.3v1.7M293.3 405.8v-1.7M304.4 224.3v1.7M304.4 405.8v-1.7" stroke="#4a4a4a" stroke-width=".75" fill="none"/>
<rect x="325.5" y="268.6" width="7.2" height="7" fill="#9D1A50"/>
<rect x="325.5" y="275.3" width="7.2" height="7" fill="#BE1660"/>
<rect x="325.5" y="282" width="7.2" height="7" fill="#DC1272"/>
<rect x="325.5" y="288.7" width="7.2" height="7" fill="#EC1280"/>
<rect x="325.5" y="295.4" width="7.2" height="7" fill="#F07AA5"/>
<rect x="325.5" y="302.1" width="7.2" height="7" fill="#F6AAC6"/>
<rect x="325.5" y="308.8" width="7.2" height="7" fill="#FAD2E2"/>
<rect x="325.5" y="315.5" width="7.2" height="7" fill="#DDF0FA"/>
<rect x="325.5" y="322.1" width="7.2" height="7" fill="#A8DAF3"/>
<rect x="325.5" y="328.8" width="7.2" height="7" fill="#7CC4EC"/>
<rect x="325.5" y="335.5" width="7.2" height="7" fill="#3C9CDA"/>
<rect x="325.5" y="342.2" width="7.2" height="7" fill="#2A8DD2"/>
<rect x="325.5" y="348.9" width="7.2" height="7" fill="#1E7CC4"/>
<rect x="325.5" y="355.6" width="7.2" height="7" fill="#176AA6"/>
<rect x="325.5" y="268.6" width="7.2" height="93.7" fill="none" stroke="#555" stroke-width=".6"/>
<g stroke="#1c1c1c" stroke-width=".08"><text x="38.9" y="9.2" font-size="9.7" text-anchor="start" stroke="#1c1c1c" stroke-width=".28">&#915; = 1:&#160; (a) z=H/2</text>
<text x="152.9" y="9.2" font-size="9.7" text-anchor="start" stroke="#1c1c1c" stroke-width=".28">(b) z=H/4</text>
<text x="248.6" y="9.2" font-size="9.7" text-anchor="start" stroke="#1c1c1c" stroke-width=".28">(c) z=3H/4</text>
<text x="26.3" y="19.2" font-size="9.7" text-anchor="end">90</text>
<text x="26.3" y="77.6" font-size="9.7" text-anchor="end">60</text>
<text x="26.3" y="137.4" font-size="9.7" text-anchor="end">30</text>
<text x="26.3" y="194.4" font-size="9.7" text-anchor="end">0</text>
<text transform="translate(9.2 104.7) rotate(-90)" font-size="9.7" text-anchor="middle">t/&#964;<tspan font-size="6" dy="1.8" fill="#666" stroke="none">ff</tspan></text>
<text x="28.9" y="206.8" font-size="9.7" text-anchor="middle">0</text>
<text x="73.4" y="206.8" font-size="9.7" text-anchor="middle">&#960;</text>
<text x="117.3" y="206.8" font-size="9.7" text-anchor="middle">2&#960;</text>
<text x="128.1" y="206.8" font-size="9.7" text-anchor="middle">0</text>
<text x="172.6" y="206.8" font-size="9.7" text-anchor="middle">&#960;</text>
<text x="216.5" y="206.8" font-size="9.7" text-anchor="middle">2&#960;</text>
<text x="227.3" y="206.8" font-size="9.7" text-anchor="middle">0</text>
<text x="271.8" y="206.8" font-size="9.7" text-anchor="middle">&#960;</text>
<text x="315.7" y="206.8" font-size="9.7" text-anchor="middle">2&#960;</text>
<text x="319" y="43.6" font-size="9.7" text-anchor="start" stroke="#1c1c1c" stroke-width=".28">Re(&#968;<tspan font-size="6.5" dy="2">T</tspan><tspan dy="-2">)</tspan></text>
<text x="334.5" y="61.8" font-size="8.9" text-anchor="start">0.2</text>
<text x="334.4" y="106.6" font-size="8.9" text-anchor="start">0.0</text>
<text x="334.9" y="150.7" font-size="8.9" text-anchor="start">&#8211;0.2</text>
<text x="38.9" y="221" font-size="9.7" text-anchor="start" stroke="#1c1c1c" stroke-width=".28">&#915; = 2:&#160; (d) z=H/2</text>
<text x="152.9" y="221" font-size="9.7" text-anchor="start" stroke="#1c1c1c" stroke-width=".28">(e) z=H/4</text>
<text x="248.6" y="221" font-size="9.7" text-anchor="start" stroke="#1c1c1c" stroke-width=".28">(f) z=3H/4</text>
<text x="26.3" y="231" font-size="9.7" text-anchor="end">90</text>
<text x="26.3" y="289.4" font-size="9.7" text-anchor="end">60</text>
<text x="26.3" y="349.2" font-size="9.7" text-anchor="end">30</text>
<text x="26.3" y="406.2" font-size="9.7" text-anchor="end">0</text>
<text transform="translate(9.2 316.5) rotate(-90)" font-size="9.7" text-anchor="middle">t/&#964;<tspan font-size="6" dy="1.8" fill="#666" stroke="none">ff</tspan></text>
<text x="28.9" y="418.6" font-size="9.7" text-anchor="middle">0</text>
<text x="73.4" y="418.6" font-size="9.7" text-anchor="middle">&#960;</text>
<text x="117.3" y="418.6" font-size="9.7" text-anchor="middle">2&#960;</text>
<text x="128.1" y="418.6" font-size="9.7" text-anchor="middle">0</text>
<text x="172.6" y="418.6" font-size="9.7" text-anchor="middle">&#960;</text>
<text x="216.5" y="418.6" font-size="9.7" text-anchor="middle">2&#960;</text>
<text x="227.3" y="418.6" font-size="9.7" text-anchor="middle">0</text>
<text x="271.8" y="418.6" font-size="9.7" text-anchor="middle">&#960;</text>
<text x="315.7" y="418.6" font-size="9.7" text-anchor="middle">2&#960;</text>
<text x="319" y="255.4" font-size="9.7" text-anchor="start" stroke="#1c1c1c" stroke-width=".28">Re(&#968;<tspan font-size="6.5" dy="2">T</tspan><tspan dy="-2">)</tspan></text>
<text x="334.5" y="273.6" font-size="8.9" text-anchor="start">0.2</text>
<text x="334.4" y="318.4" font-size="8.9" text-anchor="start">0.0</text>
<text x="334.9" y="362.5" font-size="8.9" text-anchor="start">&#8211;0.2</text>
<text x="73.4" y="429.5" font-size="9.7" text-anchor="middle">&#966;</text>
<text x="172.6" y="429.5" font-size="9.7" text-anchor="middle">&#966;</text>
<text x="271.8" y="429.5" font-size="9.7" text-anchor="middle">&#966;</text></g>
</svg>
</body></html>
